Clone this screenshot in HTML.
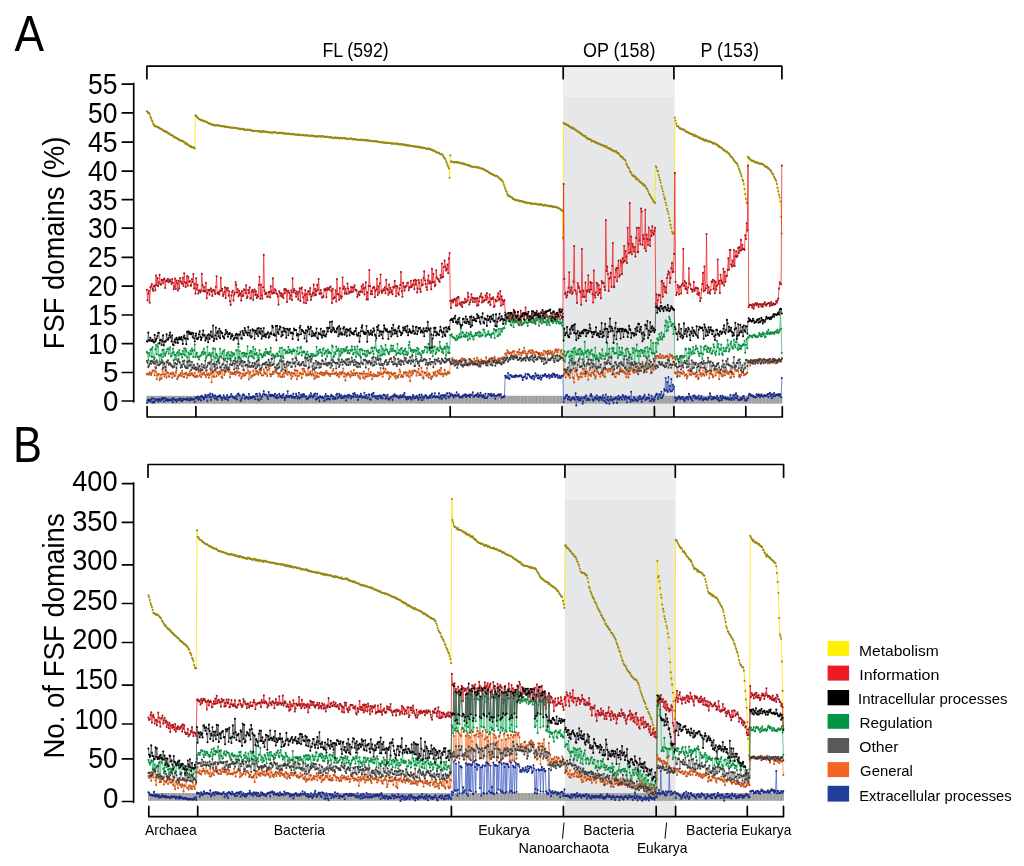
<!DOCTYPE html>
<html><head><meta charset="utf-8"><title>FSF domains</title>
<style>
html,body{margin:0;padding:0;background:#fff;}
svg{display:block;}
text{font-family:"Liberation Sans",Arial,sans-serif;fill:#000;}
.ax{stroke:#000;stroke-width:1.7;fill:none;stroke-linejoin:round;stroke-linecap:round;}
.dp path{fill:none;stroke-width:0.8;vector-effect:non-scaling-stroke;stroke-linejoin:round;}
</style></head>
<body>
<svg width="1024" height="866" viewBox="0 0 1024 866">
<defs>
<marker id="mmet" markerUnits="userSpaceOnUse" markerWidth="4" markerHeight="4" refX="0" refY="0" overflow="visible"><ellipse rx="1.45" ry="1.05" fill="#9a8813"/></marker>
<marker id="minf" markerUnits="userSpaceOnUse" markerWidth="4" markerHeight="4" refX="0" refY="0" overflow="visible"><ellipse rx="1.45" ry="1.05" fill="#a3161c"/></marker>
<marker id="mreg" markerUnits="userSpaceOnUse" markerWidth="4" markerHeight="4" refX="0" refY="0" overflow="visible"><ellipse rx="1.45" ry="1.05" fill="#0b8a42"/></marker>
<marker id="mint" markerUnits="userSpaceOnUse" markerWidth="4" markerHeight="4" refX="0" refY="0" overflow="visible"><ellipse rx="1.45" ry="1.05" fill="#000000"/></marker>
<marker id="mgen" markerUnits="userSpaceOnUse" markerWidth="4" markerHeight="4" refX="0" refY="0" overflow="visible"><ellipse rx="1.45" ry="1.05" fill="#c4501a"/></marker>
<marker id="moth" markerUnits="userSpaceOnUse" markerWidth="4" markerHeight="4" refX="0" refY="0" overflow="visible"><ellipse rx="1.45" ry="1.05" fill="#3c3c3c"/></marker>
<marker id="mext" markerUnits="userSpaceOnUse" markerWidth="4" markerHeight="4" refX="0" refY="0" overflow="visible"><ellipse rx="1.45" ry="1.05" fill="#1b2a86"/></marker>
<pattern id="hatch" patternUnits="userSpaceOnUse" width="1.4" height="2"><rect width="1.4" height="2" fill="#b2b2b2"/><rect width="0.5" height="2" fill="#8e8e8e"/><rect width="1.4" height="0.4" fill="#a2a2a2"/></pattern>
</defs>
<rect width="1024" height="866" fill="#fff"/>

<!-- ============ Panel A ============ -->
<text x="14.6" y="50.8" font-size="49.8" textLength="29.6" lengthAdjust="spacingAndGlyphs">A</text>
<rect x="563.3" y="67" width="111.2" height="349" fill="#e6e7e9"/>
<rect x="563.3" y="67" width="111.2" height="30" fill="#eeeeef"/>
<rect x="563.3" y="403.6" width="111.2" height="11.2" fill="#e9e9ea"/>
<text x="322.4" y="56.7" font-size="19.6" textLength="66.3" lengthAdjust="spacingAndGlyphs">FL (592)</text>
<text x="583" y="57" font-size="19.6" textLength="72.4" lengthAdjust="spacingAndGlyphs">OP (158)</text>
<text x="700.5" y="57" font-size="19.6" textLength="58.5" lengthAdjust="spacingAndGlyphs">P (153)</text>
<path class="ax" d="M146.9 78.7V66.2H781.9V78.7M563.2 66.2V78.7M673.9 66.2V78.7"/>
<path class="ax" d="M147.1 406.7V417H782.3V406.7M195.9 417V406.7M450.2 417V406.7M562 417V406.7M654.4 417V406.7M673.9 417V406.7M745.8 417V406.7"/>
<path class="ax" d="M133.7 83.4V401.8M122.3 401.0H133.7M122.3 372.5H133.7M122.3 343.6H133.7M122.3 315.0H133.7M122.3 286.1H133.7M122.3 257.3H133.7M122.3 228.1H133.7M122.3 199.7H133.7M122.3 171.2H133.7M122.3 142.1H133.7M122.3 112.9H133.7M122.3 84.2H133.7"/>
<g font-size="29.6" text-anchor="end">
<text x="118.3" y="411.1" textLength="15.4" lengthAdjust="spacingAndGlyphs">0</text>
<text x="118.3" y="382.3" textLength="15.4" lengthAdjust="spacingAndGlyphs">5</text>
<text x="117.4" y="353.5" textLength="29.4" lengthAdjust="spacingAndGlyphs">10</text>
<text x="117.4" y="324.7" textLength="29.4" lengthAdjust="spacingAndGlyphs">15</text>
<text x="117.4" y="295.9" textLength="29.4" lengthAdjust="spacingAndGlyphs">20</text>
<text x="117.4" y="267.1" textLength="29.4" lengthAdjust="spacingAndGlyphs">25</text>
<text x="117.4" y="238.3" textLength="29.4" lengthAdjust="spacingAndGlyphs">30</text>
<text x="117.4" y="209.5" textLength="29.4" lengthAdjust="spacingAndGlyphs">35</text>
<text x="117.4" y="180.7" textLength="29.4" lengthAdjust="spacingAndGlyphs">40</text>
<text x="117.4" y="151.9" textLength="29.4" lengthAdjust="spacingAndGlyphs">45</text>
<text x="117.4" y="123.1" textLength="29.4" lengthAdjust="spacingAndGlyphs">50</text>
<text x="117.4" y="94.3" textLength="29.4" lengthAdjust="spacingAndGlyphs">55</text>
</g>
<text transform="translate(63.7 349.2) rotate(-90)" font-size="29.5" textLength="212.6" lengthAdjust="spacingAndGlyphs">FSF domains (%)</text>
<rect x="146.4" y="395.8" width="636" height="7.9" fill="url(#hatch)"/>
<g class="dp" transform="matrix(0.7039 0 0 1 146.9 0)">
<path d="M0 111.3l1 .6 1 1.4 1-.4 1 1.4 1 2.4 1 1.7 1 1.9 1 1.3 1 2.3 1 1.2 1 1.1 1-.3 1 .3 1 .8 1 .2 1-.1 1 .9 1-.1 1 1.1 1-.2 1 .7 1 0 1 .8 1 .8 1 .3 1-.2 1 .2 1 1.1 1-.1 1 .4 1 .9 1-.2 1 1.1 1 .5 1 0 1 .1 1 .7 1 1.0 1-.1 1 .8 1 0 1 .4 1 .5 1 .4 1 .4 1 .6 1 .6 1-.1 1 .1 1 .5 1 .4 1 0 1 1.1 1 .1 1 1.4 1-.5 1 .1 1 1.1 1 .3 1 .7 1 .1 1 1.1 1-.5 1 .7 1 .2 1 .4 1-.1 1 .8 1-33.0 1 .5 1 1.0 1 1.0 1 .4 1 1.0 1-.1 1 .6 1 .1 1 .8 1-.3 1 .3 1 .4 1-.1 1 .5 1 .3 1 .4 1 .1 1 .9 1 .3 1 .1 1-.1 1 .5 1 .6 1 .2 1 0 1 0 1 .6 1 0 1-.1 1 .1 1-.2 1 0 1 .2 1 .5 1 .1 1-.2 1 .2 1 .6 1-.6 1 .3 1-.1 1 .9 1-.5 1 .6 1-.1 1-.2 1 .4 1 0 1 .2 1 0 1 .2 1 .1 1-.2 1 .4 1-.2 1-.1 1 .4 1-.1 1 .2 1 0 1 .6 1 .1 1-.3 1 .6 1-.2 1-.1 1 0 1 .5 1 0 1 .2 1 .7 1-.4 1-.1 1-.2 1 .3 1 0 1 .2 1-.4 1 .8 1-.2 1 .9 1-.5 1 .4 1-.1 1-.2 1 .3 1-.1 1 .1 1 .2 1-.5 1 .9 1-.1 1-.1 1 .4 1-.5 1-.4 1 .8 1-.2 1 .2 1 0 1 .1 1-.1 1 .3 1 .2 1 0 1 .4 1-.2 1 0 1 0 1 .1 1-.1 1-.2 1 .1 1-.1 1 .4 1 .2 1 .1 1 .3 1-.4 1-.4 1 .5 1 .2 1-.4 1 .2 1 .1 1 .9 1-.2 1-.4 1 .1 1 .2 1 .1 1 .1 1-.3 1 .1 1 .6 1-.3 1 .4 1-.3 1 .2 1 0 1 0 1 .4 1 0 1-.2 1 .1 1 .4 1-.6 1 .6 1 .1 1 .2 1 0 1-.5 1 .5 1-.3 1 .4 1-.1 1 .2 1-.3 1 .2 1 .2 1 .1 1 .1 1 .3 1-.6 1 .3 1-.4 1 .6 1 .3 1-.3 1 .4 1 .2 1-.3 1 .2 1 0 1-.3 1-.1 1 .3 1-.1 1 .4 1-.6 1 .1 1 .1 1 .6 1-.1 1 .1 1 0 1 0 1 0 1 .3 1 0 1 .2 1-.1 1 .1 1 .1 1 .5 1 .1 1-.2 1-.7 1 .7 1 .2 1-.2 1-.4 1 .3 1 .8 1-.6 1-.3 1 .4 1 .3 1-.1 1-.3 1-.2 1 .6 1-.4 1 .7 1 .2 1-.2 1 0 1 0 1 0 1-.1 1 0 1 .1 1 .7 1 .1 1-.4 1 .2 1-.1 1 .2 1 .4 1 0 1 0 1 0 1 .2 1-.4 1 .5 1-.6 1 .6 1 .1 1 .1 1-.5 1 .8 1-.5 1-.2 1 .7 1 0 1-.3 1 .6 1 0 1 .1 1-.3 1 .6 1-.1 1 0 1-.1 1 .2 1 .1 1-.3 1 .4 1 .6 1-.3 1 .1 1 0 1 .4 1 .1 1-.1 1-.1 1 .4 1 .1 1-.2 1 .2 1 .1 1 .2 1-.1 1-.1 1 .2 1 0 1 .1 1 .5 1-.1 1-.1 1 .2 1 .1 1 0 1-.1 1 .1 1-.4 1 .6 1 .6 1-.6 1 .6 1-.5 1 .2 1 .5 1-.5 1 .2 1 .5 1-.3 1 .4 1 .5 1-.8 1 .7 1 .3 1-.3 1 .1 1 .3 1 .1 1 .4 1-.6 1 .4 1 .4 1 0 1-.1 1 .4 1 .1 1-.3 1-.1 1 .6 1 .1 1 .2 1 .2 1-.2 1 .2 1 .5 1-.3 1 0 1 .2 1 .5 1 .5 1-.1 1-.5 1 .5 1-.1 1 .5 1 .1 1 .2 1 .2 1 .8 1-.3 1 .5 1 .2 1 .8 1 .4 1 .1 1 .5 1 0 1 0 1 .7 1 .8 1-.3 1 .6 1 0 1 1.6 1 1.2 1 .9 1 .8 1 2.2 1 1.5 1 2.1 1 1.6 1 1.7 1 9.6 1-22.5 1 6.1 1 .4 1 0 1 .5 1-.2 1 .5 1-.7 1 .3 1 .2 1-.3 1 .5 1-.1 1 .2 1 .1 1 .3 1 .4 1-.1 1 .5 1-.4 1 .5 1 .1 1 .6 1 .1 1 0 1 .5 1 .1 1-.1 1 .9 1-.1 1 .4 1 .2 1 .4 1-.3 1-.1 1 .1 1 .2 1 .4 1 0 1 0 1-.1 1 .4 1 .5 1 0 1 .1 1 .4 1 .3 1-.2 1 1.0 1 0 1 .8 1 0 1 .6 1 .1 1 .7 1 .6 1 .3 1 .6 1 .1 1 .5 1 .4 1 .3 1 .4 1 0 1 .9 1 .2 1-.5 1 .4 1 1.0 1 .5 1 .3 1 1.4 1-.2 1 .9 1 .7 1 1.4 1 2.0 1 2.4 1 2.0 1 2.0 1 1.1 1 2.2 1 1.8 1-.2 1 .4 1 .8 1 .3 1 .3 1 .3 1 1.3 1-.2 1 .7 1 .5 1 .3 1 0 1-.1 1 .5 1 .2 1-.3 1 .7 1-.5 1 .7 1-.1 1 .2 1 .6 1-.3 1 .6 1 .3 1-.4 1 .4 1 .4 1-.3 1 .2 1 .3 1 .1 1 .3 1-.4 1 .7 1-.2 1-.1 1-.2 1 .6 1-.1 1 0 1 .5 1 .1 1 .1 1-.4 1 .1 1 0 1 .5 1 .4 1 .1 1 .1 1-.6 1 .5 1-.1 1 .3 1 .2 1 .2 1-.5 1 .9 1-.4 1 .4 1-.5 1 .7 1 .1 1 .6 1-.8 1 .5 1-.1 1 .2 1 .8 1-.1 1 .3 1 .5 1 .5 1 .6 1 .2 1 1.0 1 27.1 1-115.1 1 1.2 1-.2 1 0 1 .9 1 .5 1-.4 1 1.1 1 .6 1-.1 1 .9 1 .5 1-.6 1 1.2 1-.1 1 .2 1 1.0 1 .1 1 .8 1 .2 1 .3 1 1.0 1 .3 1 .6 1 .2 1 .9 1 .4 1 .9 1-.1 1 .9 1 0 1 0 1 1.5 1 .2 1 .6 1 .9 1-.6 1 .5 1 .3 1 .5 1 1.5 1-.7 1 .5 1-.1 1 .6 1 .2 1 1.0 1-.4 1 .9 1-.3 1 .5 1 .1 1 .8 1 0 1 .7 1 0 1 .1 1 .1 1 1.0 1-.5 1 1.1 1-.8 1 1.5 1 .2 1 .3 1 .6 1-.5 1 .7 1 .8 1 .6 1-.1 1 .4 1 .2 1 .7 1-.3 1-.3 1 1.8 1 .1 1 0 1 1.3 1 1.2 1 .9 1-.2 1 1.4 1-.3 1 1.4 1 .8 1 0 1 1.2 1 2.9 1 1.1 1 2.0 1 .5 1 1.4 1 2.6 1 .7 1 .9 1 1.8 1 .9 1 .5 1-.5 1 1.7 1-.4 1 2.4 1-.9 1 .9 1 .9 1 .4 1 1.3 1-.1 1 1.0 1 .6 1 .6 1 0 1 1.8 1-.5 1 .6 1 1.5 1 1.6 1 .1 1 2.3 1 1.9 1 1.0 1 1.3 1 1.6 1 1.1 1 .6 1 1.4 1 1.9 1-.1 1 1.0 1-36.7 1 1.3 1 3.1 1 .4 1 3.7 1 2.7 1 2.7 1 2.4 1 3.7 1 2.2 1 2.7 1 3.0 1 3.2 1 2.0 1 3.3 1 2.6 1 3.6 1 2.3 1 2.5 1 4.1 1 2.9 1 4.2 1 3.1 1 3.7 1 1.8 1-.5 1 .5 1-115.9 1 3.1 1 3.1 1 2.5 1-.2 1 .4 1 1.0 1 .9 1 .2 1-.1 1 .7 1 .2 1-.1 1 .7 1 0 1 1.1 1 1.0 1-.4 1 0 1 1.0 1 .6 1-.4 1 .9 1 .2 1 .1 1 .3 1 1.0 1 .6 1-1.5 1 1.3 1 .7 1-.5 1 .6 1 .7 1 .4 1 .2 1-.3 1 .8 1 .6 1 .4 1-.5 1 1.3 1-.4 1 1.1 1-.9 1 .1 1 .8 1 .6 1-.3 1 .5 1-.4 1 .4 1 .5 1 .4 1 .8 1-.1 1 .1 1 .3 1-.2 1 1.2 1-.1 1 .5 1 1.7 1-.7 1 1.0 1 .4 1 .2 1 .6 1 .8 1 1.0 1 .3 1-.1 1 1.2 1 0 1 .3 1 .6 1 1.2 1-.1 1 1.2 1 1.2 1 1.1 1 0 1 1.3 1 .8 1 1.3 1 .8 1 .9 1 .6 1 .7 1 1.1 1 1.8 1 2.2 1 1.9 1 1.8 1 2.2 1 1.8 1 3.3 1 1.4 1 3.2 1 4.9 1 5.1 1 4.7 1 3.9 1 .5 1-46.3 1 1.0 1 .5 1 .8 1 1.1 1 .1 1 .5 1 0 1 .5 1 .1 1 .7 1 .4 1-.2 1-.1 1 1.0 1-.1 1 .4 1 .2 1 .2 1-.6 1 .9 1 0 1 .5 1 .5 1 1.2 1-.1 1 .7 1-.3 1 1.5 1-.3 1 1.2 1 .4 1 1.0 1 .7 1 1.6 1 1.3 1 .4 1 2.2 1 1.5 1 1.3 1 1.5 1 2.8 1 4.0 1 3.5 1 3.5 1 2.6 1 4.0 1 15.2 1 16.8" stroke="#ffe500" marker-start="url(#mmet)" marker-mid="url(#mmet)" marker-end="url(#mmet)"/>
<path d="M0 289.8l1 10.6 1-7.1 1-2.6 1 12.0 1-15.5 1-.9 1-2.2 1 4.8 1 2.0 1-4.5 1-1.2 1 5.0 1-14.7 1 9.7 1-7.1 1 8.1 1-3.7 1-7.6 1 9.4 1 .5 1-5.0 1 .6 1 2.8 1-3.9 1-.7 1 9.4 1-6.8 1-.9 1 .9 1-2.5 1 3.5 1-1.4 1-1.1 1 1.8 1 2.5 1-5.0 1 3.8 1 6.5 1-2.7 1-8.0 1 10.3 1-8.3 1 2.7 1 7.2 1-9.7 1 7.7 1-10.5 1 3.5 1 .7 1 1.7 1-6.1 1 8.2 1-12.8 1 9.0 1 5.0 1-4.1 1-7.1 1 9.7 1-8.7 1 4.8 1-.7 1 4.7 1-.4 1-6.4 1 3.0 1-8.0 1 14.5 1-4.7 1 9.8 1-15.4 1 11.3 1-4.8 1 8.9 1-2.6 1-.7 1 2.1 1-1.9 1-16.8 1 11.4 1 6.1 1-4.2 1 4.1 1 .4 1-8.7 1 15.4 1-5.1 1-3.3 1 .6 1 4.4 1-5.1 1-1.4 1 3.1 1 4.5 1-5.8 1-.3 1 1.7 1 2.6 1-7.1 1-10.8 1 16.8 1 .8 1-1.7 1 2.3 1-3.5 1-13.1 1 12.8 1-1.7 1 7.2 1-1.7 1-2.4 1-4.7 1 10.8 1-9.8 1 2.2 1-2.5 1 7.8 1-4.6 1 10.1 1 3.6 1-9.3 1-3.4 1-1.5 1 9.7 1-5.8 1-1.8 1-10.5 1 2.6 1 7.7 1-3.6 1 7.2 1-5.5 1 4.2 1-1.5 1 7.2 1-9.5 1 5.0 1-.5 1-6.3 1 .8 1 3.1 1-8.0 1 12.9 1-1.3 1-7.0 1 3.1 1-5.5 1 11.2 1-.6 1-6.4 1-1.7 1 10.1 1-8.2 1-2.3 1 5.4 1-3.7 1 6.9 1-3.2 1 1.9 1-11.8 1-8.2 1 22.0 1-14.3 1 11.0 1 3.3 1-11.5 1-32.5 1 35.7 1 3.8 1-1.8 1 1.0 1 3.5 1-.5 1-4.4 1-.2 1 5.5 1-11.0 1 5.2 1 2.0 1-15.2 1 14.2 1 .6 1-3.9 1 1.2 1 2.7 1 1.1 1 2.0 1 8.3 1-13.4 1 1.8 1 2.8 1-2.6 1 3.6 1-2.4 1 3.6 1-8.6 1 3.8 1-4.3 1 1.5 1 11.6 1-10.8 1-.5 1 2.0 1 6.0 1-2.9 1-5.3 1 9.4 1-21.5 1 13.9 1-3.2 1 1.4 1 2.7 1 3.6 1-5.2 1 2.4 1 5.4 1-7.4 1-3.7 1 12.6 1-12.2 1-1.2 1 5.8 1 3.9 1 5.5 1-7.6 1-5.0 1 13.2 1-9.6 1 6.6 1-8.9 1-.3 1 3.3 1-6.3 1 11.9 1-3.4 1-2.2 1-1.5 1-8.3 1 10.8 1-6.4 1 5.9 1-3.9 1-6.1 1 5.1 1-10.9 1 14.4 1 .6 1-4.1 1 3.2 1 4.2 1 .1 1-1.5 1-6.8 1 1.2 1-1.8 1 8.7 1-7.4 1-2.2 1 1.4 1 .6 1-2.5 1-.6 1 4.3 1 12.2 1-14.2 1 9.9 1-.8 1-.7 1-7.1 1 11.3 1-22.4 1 15.1 1 .1 1 5.7 1-11.9 1 7.9 1 2.4 1-1.8 1-19.1 1 11.5 1-2.5 1 7.2 1-5.1 1 4.3 1 1.1 1-10.5 1 5.1 1 4.9 1-1.9 1 .6 1-5.2 1 5.1 1-4.9 1 4.6 1-4.2 1-2.2 1 4.3 1 .9 1-.3 1 6.6 1-2.5 1-2.4 1 3.3 1-4.1 1 .6 1-5.6 1 6.0 1-8.0 1 4.4 1 5.9 1-6.7 1-5.4 1 17.1 1-7.1 1 7.0 1-13.4 1-15.9 1 16.0 1 8.2 1-3.6 1 3.6 1-6.3 1-.9 1 .3 1 9.8 1-6.6 1-1.4 1-10.4 1 16.2 1-8.8 1 6.5 1-9.1 1-9.1 1 16.3 1 2.1 1-1.6 1-2.0 1 1.2 1-3.1 1 5.8 1-13.3 1 8.9 1 1.2 1 4.8 1-10.2 1 8.1 1-4.9 1 4.7 1-2.2 1 3.9 1-7.3 1 .8 1-6.8 1 5.1 1 10.2 1-10.1 1 .7 1 6.6 1 1.3 1-6.1 1-3.5 1-13.1 1 19.3 1 5.5 1-13.9 1 3.6 1 4.3 1-3.4 1-1.0 1-.7 1-2.6 1-.6 1 7.8 1-2.5 1-.7 1-6.4 1 6.6 1-1.8 1-.9 1-4.1 1 8.6 1-9.4 1 4.9 1-4.1 1 11.9 1-3.9 1-8.5 1 2.7 1 6.5 1 2.7 1-11.9 1 5.4 1-.9 1-6.4 1-6.7 1 8.9 1 3.6 1 3.4 1 2.7 1-9.6 1-4.9 1 7.9 1-2.2 1 1.8 1 6.3 1-20.4 1 13.5 1-8.5 1 7.9 1 4.4 1-1.5 1-14.5 1 7.4 1 1.1 1 .7 1 1.6 1 1.0 1-6.9 1 2.8 1-14.3 1 13.5 1-.4 1-9.7 1-6.4 1 6.0 1 3.9 1-1.6 1-4.4 1 8.8 1-14.7 1-5.6 1 47.8 1 7.1 1-6.7 1-1.3 1 2.5 1-2.0 1-1.6 1 .9 1 5.9 1-7.6 1 7.5 1-8.8 1 .9 1 6.3 1-.4 1 1.8 1-3.2 1 4.8 1-4.5 1-.1 1 .7 1-4.1 1 3.4 1-.5 1-1.5 1-7.5 1 4.2 1 7.5 1-2.2 1-2.4 1-5.7 1 3.6 1 4.2 1-3.6 1 0 1 3.7 1-3.8 1 .4 1 7.0 1-7.7 1 7.0 1-3.8 1-4.6 1-.2 1-2.8 1 8.9 1-5.1 1 4.4 1-1.1 1-.5 1-4.9 1 4.5 1-6.7 1 4.4 1 5.2 1-.8 1-7.4 1 10.4 1-6.6 1 .9 1-.5 1-1.3 1 9.6 1-1.0 1-6.4 1 1.7 1-.1 1-4.5 1-3.4 1 6.8 1-1.3 1-7.7 1 14.6 1-9.4 1 3.6 1 4.6 1-3.1 1-1.4 1 12.5 1 8.4 1-2.0 1-2.0 1 .4 1-1.4 1 .1 1-1.3 1 5.2 1-6.2 1 3.6 1-2.8 1-4.8 1 3.2 1 2.0 1 7.3 1-4.2 1-2.6 1 5.9 1-5.8 1 3.3 1 4.2 1-12.2 1 14.5 1-11.7 1 2.9 1-1.9 1 5.1 1-7.0 1-5.2 1 7.3 1 3.7 1-4.8 1 8.7 1-4.8 1 2.3 1 1.5 1-3.2 1-4.8 1-1.6 1 6.4 1 1.3 1 1.1 1 3.3 1-11.2 1-2.0 1 6.2 1-1.0 1 1.5 1-3.9 1 8.3 1-3.9 1-.1 1-2.2 1 6.4 1-10.4 1 6.9 1-.4 1-6.7 1 3.6 1 1.6 1 2.7 1 2.4 1-5.4 1-.3 1 3.2 1-2.4 1-4.1 1 4.9 1-.4 1-3.8 1 5.0 1-4.4 1-1.1 1 6.4 1-2.9 1 1.2 1-8.3 1-.2 1 6.1 1 3.1 1-1.6 1-2.9 1-129.8 1 94.9 1 15.3 1-1.5 1 4.7 1-1.9 1-3.6 1-4.2 1-15.4 1 20.5 1-2.4 1-3.0 1 6.6 1-1.6 1-10.8 1-35.6 1 44.3 1 .4 1 2.8 1 9.5 1-20.0 1 3.0 1 1.9 1 4.1 1-.6 1 13.3 1-55.7 1 47.7 1-6.1 1 6.4 1-.2 1-14.2 1 18.4 1-10.5 1 1.2 1-16.4 1 14.7 1 2.1 1-10.1 1 7.6 1-6.6 1 11.0 1 8.5 1-32.0 1 24.8 1 2.4 1-5.2 1-9.7 1 1.0 1 11.1 1-9.7 1 7.7 1-3.5 1 8.8 1-17.2 1 1.6 1 .5 1-.3 1 4.1 1 3.3 1-70.2 1 51.1 1-4.5 1 7.4 1 16.9 1-12.1 1-.9 1-5.0 1 14.2 1-21.3 1-22.8 1 43.6 1 .5 1-9.8 1-7.3 1-2.0 1 13.2 1-13.1 1-7.4 1 16.0 1-1.7 1-14.6 1 2.0 1 11.7 1-15.7 1 4.0 1-16.4 1 14.9 1-9.8 1 5.5 1 6.5 1-35.4 1 16.2 1 9.4 1-50.3 1 49.2 1-15.7 1 17.8 1-10.6 1 2.8 1 5.0 1-4.3 1 9.4 1-18.7 1-10.0 1 24.3 1-.1 1-24.3 1 12.5 1 4.0 1-35.7 1 3.0 1 33.3 1-9.9 1 3.9 1 9.3 1-38.5 1 41.3 1-16.4 1 4.5 1 5.9 1-17.4 1 12.3 1 6.1 1-15.4 1 5.3 1-9.7 1 6.8 1 1.6 1-3.7 1-3.2 1 76.3 1-9.6 1 11.5 1-5.6 1-5.2 1 .1 1 0 1 7.5 1-21.2 1-.7 1 15.9 1-13.4 1 2.9 1 5.8 1-4.8 1 5.8 1-15.1 1-3.3 1-3.4 1 1.5 1 10.0 1-4.7 1-9.8 1-5.3 1 9.1 1-.1 1-18.0 1-81.0 1 108.9 1 13.3 1-2.4 1-7.6 1 2.2 1 7.1 1-7.8 1-.1 1 7.0 1-8.5 1-1.4 1-34.9 1 37.3 1-5.0 1 7.9 1-6.1 1 6.6 1 3.5 1-5.4 1-19.3 1 15.4 1 1.4 1 4.0 1 .4 1 2.4 1-2.1 1-7.8 1 9.0 1-2.1 1-1.3 1 .6 1 6.0 1-5.9 1 6.8 1-2.3 1 8.4 1-2.9 1-8.6 1-5.5 1-11.3 1 18.4 1-24.7 1 23.8 1-2.0 1-54.3 1 51.4 1 7.6 1-5.9 1 4.9 1 1.7 1-3.9 1-8.3 1 .5 1-2.3 1 9.2 1-8.4 1 12.8 1-11.6 1 8.1 1-4.1 1-26.2 1 24.4 1-3.2 1 12.4 1-18.4 1 5.9 1 3.1 1-1.2 1-13.7 1 16.7 1-13.7 1 10.0 1-5.4 1-.8 1-5.8 1-11.6 1 11.5 1-19.7 1-.1 1 14.7 1 2.1 1-6.1 1 5.2 1-15.8 1 16.0 1-9.8 1-5.0 1 5.9 1-1.2 1-8.2 1 5.2 1-5.8 1 3.7 1-10.9 1 10.2 1-5.4 1 4.2 1 0 1 1.0 1-14.7 1 3.8 1-15.7 1 7.3 1-65.0 1 141.7 1-2.1 1-.5 1 .2 1 .6 1 2.1 1-3.4 1 4.5 1-3.0 1-1.8 1-.6 1 1.7 1-1.7 1 1.5 1 2.1 1-2.6 1 0 1 .1 1 2.1 1-2.1 1 2.3 1-2.9 1 .6 1-2.2 1 2.6 1 .9 1-1.6 1-.6 1-.3 1-.2 1 3.0 1-2.1 1-1.9 1 3.3 1-1.1 1-.9 1 1.5 1-.6 1-.1 1-3.0 1 1.5 1-2.3 1-1.8 1-10.0 1-6.2 1 1.7 1 .3 1-118.7" stroke="#ee2a2f" marker-start="url(#minf)" marker-mid="url(#minf)" marker-end="url(#minf)"/>
<path d="M0 351.9l1 1.4 1 7.0 1-7.2 1 2.6 1-6.0 1-.6 1 7.8 1-9.5 1 9.4 1 2.9 1-1.6 1-8.9 1-4.2 1 9.2 1-7.5 1-3.2 1 11.6 1 6.4 1-5.9 1-1.4 1 5.8 1-9.9 1 6.6 1-7.2 1 4.3 1 1.9 1-2.4 1-1.8 1-2.5 1-.5 1 5.2 1-4.2 1-2.2 1 9.1 1-.8 1-2.4 1-4.6 1 3.8 1 2.3 1 4.5 1-4.3 1 4.9 1-6.7 1-1.1 1 3.7 1-5.6 1 3.5 1 .8 1-.4 1 3.4 1-6.4 1 3.1 1-5.8 1 7.1 1-6.6 1 2.1 1 6.1 1 8.7 1-13.1 1 8.3 1-6.8 1-3.5 1 3.7 1-5.8 1 2.2 1 6.2 1-6.7 1-5.6 1 12.5 1-2.5 1-1.8 1 4.3 1-.5 1 2.9 1-2.7 1-1.3 1 0 1-2.4 1-1.5 1 2.9 1-5.8 1 4.8 1-1.0 1 6.1 1-2.1 1-9.8 1 8.4 1 .2 1-2.3 1 1.5 1 3.0 1-2.1 1-2.3 1-4.7 1 8.4 1 8.5 1-16.5 1 9.5 1-4.4 1 1.9 1 5.8 1-2.7 1-1.9 1-8.3 1 7.7 1 1.4 1-4.4 1-2.0 1 7.6 1-8.9 1 10.4 1-2.0 1-3.1 1-2.4 1 6.0 1-7.0 1 6.5 1-3.6 1 4.0 1-6.9 1 4.4 1-3.4 1 1.7 1-1.2 1 6.6 1-1.9 1-7.8 1-.1 1 10.9 1-14.4 1 11.8 1-7.3 1 7.6 1 2.0 1-7.4 1-.4 1 3.3 1-3.7 1 2.6 1-1.8 1 3.2 1-2.8 1-7.7 1 12.6 1-2.2 1-3.5 1-2.4 1 5.6 1-4.8 1 5.5 1-9.9 1 11.3 1-4.3 1-4.9 1 5.2 1-1.4 1 7.8 1-5.6 1 2.6 1-7.7 1 4.2 1-.3 1 1.3 1 2.1 1-1.5 1-1.8 1-1.8 1 3.1 1-6.4 1 4.1 1-1.2 1 2.1 1-1.8 1 2.1 1-2.6 1-3.9 1 7.5 1 3.7 1-4.6 1 1.2 1 .3 1 .2 1 .7 1-2.5 1-.7 1 2.5 1-.2 1-4.2 1-3.6 1 11.7 1 .2 1-12.2 1 9.0 1 1.4 1-8.2 1-.3 1 3.6 1-1.4 1-.5 1 1.8 1-6.4 1 6.0 1-3.2 1 2.4 1-.9 1 2.5 1-2.3 1-2.1 1 2.1 1-1.1 1 7.9 1 .2 1-6.8 1-4.0 1 6.8 1-.6 1-.9 1-4.8 1-1.2 1 8.7 1-3.4 1 .4 1-1.1 1 .6 1 6.5 1-4.4 1 .4 1-2.7 1 2.9 1 1.8 1-.2 1 3.6 1-6.1 1 1.4 1 1.8 1-3.0 1 1.6 1 0 1-.1 1 .6 1-9.3 1 8.2 1-3.5 1 1.9 1-3.5 1-.4 1 2.7 1 .5 1 3.2 1-6.3 1-1.4 1 5.9 1-1.1 1-2.2 1 .5 1 5.2 1-7.0 1 3.6 1-1.6 1 1.4 1 .2 1 7.2 1-14.7 1 1.2 1 10.1 1-.6 1-4.1 1 1.9 1-7.6 1 4.6 1-.8 1-1.8 1 11.9 1-9.7 1 4.7 1-6.4 1 4.2 1-1.1 1-3.1 1 1.3 1 1.1 1-2.8 1 2.0 1-3.7 1 6.4 1-2.8 1 2.3 1 .6 1-3.4 1 .7 1-4.3 1 3.3 1 4.7 1-1.3 1-6.3 1 2.6 1 7.5 1-4.7 1-5.8 1 7.7 1 .9 1-5.4 1 6.7 1-7.0 1 0 1 .9 1 4.1 1 0 1-3.5 1 3.8 1 1.9 1-5.5 1 4.6 1-5.1 1 1.8 1 1.3 1-.6 1-.4 1-4.9 1 .2 1 3.4 1 2.8 1-6.4 1-.2 1-6.9 1 9.1 1 1.4 1 5.2 1-4.0 1-2.2 1 8.6 1-3.2 1-9.4 1 9.0 1-6.6 1 5.8 1-3.8 1 4.0 1-9.4 1 4.8 1-.3 1 2.1 1 1.4 1 1.2 1-2.5 1-2.6 1-3.7 1 5.8 1-2.2 1-3.3 1 5.0 1 .5 1-.4 1 4.1 1-1.4 1-9.5 1 8.7 1 .5 1-3.3 1 4.1 1-5.2 1-.9 1 5.4 1-2.4 1 3.7 1-4.2 1-1.7 1 5.7 1-2.8 1 3.5 1-2.0 1-8.1 1-3.2 1 6.4 1 2.6 1-1.1 1 6.4 1-6.1 1 2.0 1-1.8 1 .1 1 6.3 1-6.0 1-2.9 1 6.4 1-5.1 1 3.7 1 1.0 1 1.2 1 .5 1-4.4 1 1.4 1 .1 1-2.1 1-3.5 1-.2 1 .6 1 5.1 1-4.5 1-4.1 1 6.6 1-.9 1 3.3 1-1.2 1-11.5 1 16.1 1-5.6 1-4.2 1 .3 1 7.3 1-1.6 1-3.3 1-1.1 1 2.3 1 .4 1-9.1 1 5.2 1 1.7 1 3.5 1-2.9 1 4.0 1-4.7 1-1.9 1 1.3 1 7.7 1-12.1 1 2.9 1 6.5 1-5.3 1 5.5 1-17.7 1-.2 1-.8 1 2.4 1 .7 1 0 1 .5 1 1.0 1 1.3 1-4.5 1 3.7 1-1.4 1-1.5 1-2.5 1 3.6 1-9.1 1 8.3 1-4.5 1 .2 1 3.6 1 .4 1-2.0 1 2.1 1-4.2 1 3.6 1 4.0 1-6.9 1 1.6 1 4.0 1-6.8 1 2.4 1 1.8 1 .5 1 2.7 1-3.6 1-.3 1-2.4 1 2.0 1-2.1 1-.2 1 2.9 1-4.0 1 5.0 1-3.9 1 2.7 1 .3 1-.7 1-5.5 1 .2 1 2.7 1 3.9 1-1.3 1-.4 1-.6 1-2.9 1 2.7 1 1.3 1-.3 1 2.5 1-3.1 1-1.0 1 .2 1-4.5 1 9.1 1-8.0 1 1.1 1-1.2 1 6.3 1-.3 1-7.2 1 5.7 1 0 1-5.5 1 2.7 1-2.3 1-1.1 1-.2 1 .2 1-5.3 1 1.0 1-2.6 1-4.3 1 1.5 1 1.5 1-2.2 1 3.4 1 3.6 1 .6 1-4.1 1 .9 1 5.0 1-5.3 1-3.6 1 2.4 1-.1 1 0 1 2.3 1 1.9 1 .4 1-7.8 1 2.9 1 1.1 1 3.0 1-.9 1 .1 1-1.3 1-1.4 1-1.0 1 2.5 1 .4 1 3.2 1-8.6 1 2.4 1 1.1 1 .8 1 .4 1-4.0 1 4.6 1-3.1 1 2.9 1-1.0 1 1.6 1-5.1 1 2.5 1-1.9 1-1.8 1 8.8 1-6.8 1 1.0 1-1.1 1 4.8 1-4.8 1 1.2 1 2.2 1-.3 1 .6 1-6.2 1 8.6 1-4.0 1 2.1 1-6.0 1 8.3 1-6.9 1 1.2 1 2.0 1-1.2 1 2.5 1-1.4 1-3.1 1 1.0 1 2.0 1 1.8 1-3.4 1 1.7 1 .6 1 1.7 1-4.5 1 4.2 1-1.2 1 3.4 1-6.0 1 35.5 1-3.8 1 10.4 1-5.9 1-1.3 1-2.2 1-.5 1-.7 1 5.6 1 3.2 1-4.1 1-4.6 1 13.5 1-12.7 1-3.4 1 13.7 1-14.7 1 4.3 1 2.6 1-.6 1-3.8 1 4.1 1-5.2 1 9.5 1-9.9 1 5.9 1-3.6 1 1.9 1 1.6 1 7.0 1-19.7 1 11.1 1-1.7 1 5.9 1-6.4 1-.6 1 9.5 1-7.3 1 1.4 1-3.0 1-1.0 1 4.9 1 5.8 1-5.5 1 1.8 1-9.0 1 10.8 1-2.9 1 2.2 1 1.8 1 .3 1-6.5 1 4.3 1-2.9 1 4.0 1-9.4 1 6.6 1-.3 1 3.5 1-.5 1-5.1 1 1.9 1-12.3 1 11.2 1-.5 1-5.0 1 8.8 1-1.2 1 .2 1-8.6 1 3.3 1-3.0 1 5.3 1-.6 1 .2 1 0 1-9.5 1 14.3 1-2.7 1-7.8 1 7.4 1-3.1 1 2.7 1-6.7 1 5.1 1 10.6 1-7.8 1 .8 1-6.9 1 6.3 1-7.5 1 .4 1 2.9 1 8.6 1-6.6 1 1.0 1 3.1 1 1.3 1-10.9 1 4.5 1-4.3 1 13.2 1-11.0 1-.5 1-5.6 1 11.5 1-5.1 1 11.8 1-11.8 1 5.2 1-6.5 1 .9 1 2.3 1-2.4 1 5.4 1-4.5 1-3.6 1 9.1 1 5.1 1-14.7 1 4.5 1 4.6 1-7.8 1 .7 1-9.1 1 12.3 1 1.2 1-10.6 1 9.9 1 .8 1 3.0 1-13.8 1 8.9 1-13.4 1 5.3 1-3.9 1-5.8 1 3.2 1 1.9 1-6.6 1 6.9 1-2.4 1-2.5 1 2.0 1-10.8 1-5.3 1 10.8 1-9.3 1 8.6 1-3.7 1-10.1 1 2.3 1 2.7 1 4.1 1-1.2 1-1.0 1 10.3 1-10.3 1 34.5 1 1.4 1-2.7 1-.8 1 2.8 1 2.2 1-2.2 1-2.3 1 .9 1-1.6 1 6.8 1-6.9 1 1.6 1-.1 1-1.5 1-7.3 1 .9 1 11.9 1-.5 1-7.5 1-4.8 1 7.5 1-6.6 1 3.5 1 1.4 1-2.8 1-4.5 1 6.2 1 .3 1-4.0 1-3.7 1 2.9 1-.4 1 3.4 1 2.4 1 2.1 1-2.9 1-6.7 1 6.6 1 5.6 1-4.7 1-6.6 1 2.1 1-3.6 1-.2 1 3.8 1 2.3 1-4.6 1 1.1 1 3.9 1-2.2 1-2.0 1 5.5 1 0 1-2.6 1-6.6 1 2.6 1 6.1 1 2.0 1-3.8 1-10.5 1 6.6 1-3.4 1 10.4 1-5.3 1 .6 1-5.2 1 9.1 1 1.3 1-7.2 1 3.5 1 0 1-2.7 1 2.8 1-3.7 1-7.5 1 5.2 1 6.1 1-2.0 1-5.5 1-2.4 1 5.0 1 1.7 1 .4 1-8.8 1 5.3 1 2.1 1-5.1 1-5.9 1 12.5 1 1.3 1-5.5 1 4.1 1-2.8 1 3.3 1-2.7 1-1.4 1-.6 1 .5 1-4.2 1 12.1 1-8.1 1-5.6 1 9.2 1-11.1 1 .4 1-2.3 1 .5 1 .5 1-.3 1 1.4 1-1.7 1-.7 1-.2 1 2.0 1-.9 1 1.3 1-.3 1-.1 1-1.3 1-2.4 1 1.7 1 1.6 1-2.4 1 2.3 1-3.8 1 2.1 1-1.1 1 3.7 1-.6 1-2.9 1-1.8 1 2.1 1-4.2 1 3.2 1 1.1 1-1.9 1 1.5 1-.4 1-.9 1 .4 1 1.1 1-1.4 1-.4 1-1.1 1 1.6 1-2.8 1 3.1 1-.9 1-1.6 1-18.4 1 16.8 1 24.2" stroke="#3dbb6e" marker-start="url(#mreg)" marker-mid="url(#mreg)" marker-end="url(#mreg)"/>
<path d="M0 341.3l1 .2 1-8.9 1 7.4 1 .7 1-3.0 1 2.8 1 .5 1-1.2 1 1.7 1 1.0 1-7.6 1 6.5 1-2.0 1-1.2 1-2.2 1-3.2 1 0 1 10.6 1-3.1 1-.6 1 5.3 1-3.8 1-5.8 1 10.0 1-3.6 1-.4 1-.2 1-6.8 1 5.1 1 .2 1-1.7 1-2.6 1-2.9 1 4.8 1 4.3 1-6.4 1 9.3 1 .8 1-3.7 1-2.2 1 3.4 1-4.9 1 1.7 1 3.3 1-4.0 1-1.7 1 2.3 1-1.2 1-1.3 1 2.8 1 4.1 1-6.6 1-1.7 1 3.0 1-.2 1 5.9 1-12.4 1 7.1 1-7.8 1 2.5 1-1.4 1 1.8 1 .2 1-1.6 1 4.5 1-4.0 1 5.1 1 3.2 1-5.7 1-2.2 1 5.0 1 .7 1-1.6 1-3.3 1-3.0 1 5.6 1 2.9 1-2.2 1-3.1 1-4.0 1 5.1 1-.7 1 5.5 1-3.1 1 1.4 1-3.6 1 7.0 1-8.0 1 4.7 1-3.4 1-3.9 1 5.5 1-.6 1-11.0 1 15.4 1-2.3 1-3.1 1-7.9 1 11.5 1-6.2 1-1.5 1 5.0 1-7.7 1 9.4 1-6.7 1 1.7 1 0 1 3.2 1 .9 1 1.3 1-4.0 1-4.4 1 3.1 1-1.3 1 4.9 1-2.8 1-.1 1-.8 1 5.4 1-2.3 1-1.8 1 1.4 1 4.2 1-1.3 1-.8 1-2.7 1-1.4 1 4.6 1-3.9 1 9.6 1-9.6 1 .1 1-2.9 1 6.6 1 .4 1-7.9 1 2.4 1 2.1 1-7.3 1 2.5 1 2.3 1-.2 1 2.5 1-8.2 1 5.8 1 3.0 1-5.4 1 7.2 1-1.0 1-7.2 1 1.3 1-.2 1 8.4 1-6.4 1-1.8 1 3.3 1-5.4 1 7.6 1-8.0 1 3.9 1 1.6 1-5.0 1 10.0 1-7.3 1 5.0 1-8.3 1 7.9 1-1.6 1 2.9 1-2.8 1-.8 1-1.4 1 5.5 1-1.2 1-2.8 1-.8 1 1.3 1-8.4 1 1.6 1 7.6 1-.7 1 1.4 1-9.6 1 14.2 1-14.6 1 6.4 1 1.8 1-4.5 1-2.9 1 .7 1 9.2 1-4.6 1 3.3 1-7.3 1 3.3 1-2.4 1 3.3 1 5.8 1-9.1 1 .4 1 6.1 1-4.8 1-1.6 1 4.3 1-.1 1-.4 1 6.3 1-5.1 1-5.3 1 1.8 1-.3 1 0 1 5.4 1-1.7 1 6.3 1-5.3 1-7.0 1-1.9 1 8.5 1-4.5 1 .9 1 .6 1 1.2 1 6.0 1-5.5 1-2.8 1 11.2 1-9.9 1-4.6 1 2.4 1 5.1 1-5.9 1-1.5 1 9.2 1-5.0 1 4.6 1-2.4 1 1.1 1 1.4 1-2.8 1-4.5 1 9.1 1 1.0 1-5.6 1 .9 1 .3 1-5.6 1 6.7 1 2.2 1-6.2 1 3.8 1-3.8 1 4.5 1 .6 1-2.3 1-6.5 1 3.9 1-3.1 1-.7 1-5.8 1 9.3 1 .9 1-10.7 1 9.1 1-2.8 1 1.4 1 2.8 1-.7 1 1.0 1-3.4 1-1.4 1 8.7 1-10.1 1 8.3 1-5.8 1 4.4 1 1.6 1-.2 1-6.0 1-1.3 1 7.5 1-2.3 1-2.9 1 6.6 1-6.4 1 1.2 1-.9 1 5.5 1-6.9 1 3.4 1 1.0 1 1.0 1-1.1 1 1.6 1-3.0 1-.4 1-2.8 1 6.1 1 1.4 1-.5 1-2.3 1 8.8 1-5.7 1-4.7 1-3.9 1-2.1 1 5.9 1 2.3 1-1.3 1 2.1 1-1.3 1-6.9 1 15.7 1-10.7 1 1.4 1 2.2 1-.7 1-3.5 1 2.6 1 2.0 1-3.3 1-3.4 1 2.2 1 4.1 1 1.3 1 2.5 1-11.6 1 3.1 1-4.8 1 10.8 1-4.9 1 .6 1 3.1 1-3.2 1 6.9 1-6.8 1-6.3 1 3.0 1 1.5 1 1.1 1-1.8 1 2.4 1 7.4 1-7.0 1-.8 1 .6 1 4.7 1-8.4 1 6.3 1-9.7 1 5.6 1 3.1 1-3.5 1 3.7 1-2.2 1 4.8 1-8.2 1-1.7 1 4.7 1 1.3 1 3.0 1-2.6 1 .8 1-5.9 1 3.0 1-1.7 1-2.2 1 4.0 1 1.6 1-6.4 1 9.4 1-3.1 1-2.8 1 2.0 1 1.1 1 .6 1-1.5 1-5.4 1 4.7 1 2.9 1-.4 1-6.1 1-.5 1 7.4 1-3.0 1-3.1 1 .5 1-.9 1 4.7 1-2.0 1 1.1 1 1.1 1-4.2 1 7.8 1-5.5 1 0 1-2.6 1 3.4 1-9.6 1 6.6 1 1.6 1 17.8 1-19.5 1 6.2 1 12.9 1-9.0 1-3.2 1-7.4 1 4.0 1-4.2 1 7.8 1-3.2 1 1.5 1 .6 1 .7 1-4.0 1-4.4 1 3.6 1 1.6 1 4.8 1-4.2 1-4.4 1 6.9 1 1.0 1-8.8 1 4.3 1 .1 1-3.2 1-1.4 1 2.4 1-9.1 1-.4 1-1.0 1 1.0 1 2.0 1-3.5 1-.1 1-2.5 1 6.5 1-.7 1 2.1 1-4.4 1 3.1 1-4.6 1 6.7 1 2.5 1-1.4 1-.6 1-6.1 1-.1 1 3.2 1 .7 1-6.2 1 6.8 1-4.1 1 2.4 1 .5 1 2.1 1-7.1 1 9.9 1-10.6 1 9.0 1-5.1 1-2.9 1 2.9 1-1.6 1 2.2 1 .4 1-7.1 1 4.1 1-2.4 1 1.9 1 3.9 1 2.1 1-6.7 1 .3 1-4.2 1 9.0 1 1.2 1-4.8 1 0 1 .9 1 6.4 1-10.2 1 4.6 1-1.0 1-2.4 1 5.0 1-5.6 1 2.5 1 .8 1-4.8 1 6.5 1-.4 1 5.1 1-11.6 1 12.0 1-4.6 1-3.1 1-.9 1-4.1 1 6.8 1-1.3 1-3.0 1 2.6 1 5.1 1-4.3 1 .5 1-4.9 1-.9 1 2.9 1 .7 1-4.6 1-.2 1 8.4 1-8.7 1 .6 1-.3 1 5.4 1-2.5 1 4.0 1-8.7 1 1.0 1 3.9 1 1.2 1-1.3 1-4.2 1 7.2 1 .9 1-.5 1-2.7 1-.5 1-.7 1-1.7 1-.8 1 6.4 1-5.1 1-1.1 1 1.1 1-.6 1 2.7 1-4.8 1 8.2 1-3.5 1-.2 1 2.4 1-7.4 1 6.4 1-6.4 1 4.5 1-2.7 1 2.0 1-2.5 1 2.2 1 .6 1-1.7 1 3.4 1-.3 1-1.0 1-3.4 1 .8 1-3.1 1 5.6 1-2.0 1 4.2 1-4.8 1-1.3 1 .1 1-.8 1-.2 1 .2 1-1.0 1-.4 1 3.6 1 7.4 1-2.8 1-5.7 1-.9 1 7.8 1 .7 1-2.8 1-2.6 1-1.5 1 1.8 1 1.7 1-5.9 1 1.8 1-.1 1-.5 1-2.0 1 7.5 1 23.5 1-12.0 1 6.7 1-2.1 1-.4 1-5.8 1 8.3 1 1.6 1 .3 1-7.9 1 4.5 1-6.2 1-1.7 1 4.0 1-4.5 1 7.5 1-8.7 1 9.6 1 6.3 1-6.8 1-2.2 1 7.1 1-2.8 1-2.8 1 3.6 1-2.9 1-.9 1-1.4 1 2.4 1-3.6 1 .9 1-1.0 1 6.5 1-6.0 1 3.2 1-.9 1-1.4 1-6.5 1 3.7 1 3.3 1 1.0 1 4.3 1-4.8 1 2.1 1-1.9 1-.5 1-4.6 1 7.8 1-1.8 1 2.6 1-2.3 1 3.6 1-5.9 1 2.8 1-10.9 1 14.1 1-5.2 1 4.1 1-6.6 1-5.8 1 5.1 1 13.5 1-13.3 1 8.0 1-5.0 1-5.5 1-7.9 1 12.6 1-4.5 1 1.9 1 2.2 1 12.1 1-7.3 1-7.5 1-5.3 1 16.4 1-7.4 1-3.1 1 1.8 1 1.1 1-2.9 1 9.9 1-9.7 1 2.3 1-2.4 1 8.3 1-7.2 1 1.4 1-1.7 1 .9 1 1.4 1 5.1 1-4.1 1-7.0 1 3.1 1 1.3 1 7.4 1-4.6 1 .4 1-.4 1 2.7 1-1.7 1-5.4 1 6.0 1-7.4 1 3.7 1-7.1 1 0 1 8.0 1-2.3 1-2.9 1 7.1 1 7.4 1-8.7 1 6.8 1-4.2 1-10.2 1 .7 1 3.2 1-7.8 1 17.0 1-7.4 1 4.4 1-12.8 1 9.7 1-3.8 1-1.9 1 4.5 1-2.3 1 3.9 1-2.2 1-23.6 1 .5 1 5.7 1-4.6 1 1.2 1-1.6 1 3.4 1-5.1 1 .1 1 2.9 1-.7 1 2.8 1-3.7 1-.5 1 .7 1 2.2 1 .6 1-5.4 1 3.3 1 2.8 1-.6 1-1.9 1-2.4 1 1.3 1 1.8 1-.4 1 1.2 1 16.9 1 2.3 1 4.3 1 .4 1 5.6 1-7.8 1-7.6 1 9.4 1 3.4 1-8.3 1 6.6 1 3.1 1-1.6 1-13.4 1 10.7 1-3.0 1-2.0 1 7.5 1-5.1 1-3.7 1 1.4 1 5.8 1 5.3 1-9.1 1 2.1 1-5.7 1 8.3 1-5.6 1 1.3 1 1.6 1 1.6 1-8.4 1 9.6 1 1.8 1-8.1 1-3.0 1 1.1 1 .3 1 .1 1-.6 1 2.6 1 8.5 1-14.1 1 2.8 1 8.5 1-6.3 1 1.9 1 3.7 1-7.8 1 5.0 1-2.5 1-2.6 1 3.1 1 3.9 1-3.8 1 .5 1 5.4 1 3.6 1-4.9 1-5.2 1 0 1 4.2 1 .2 1 1.5 1-4.1 1-.5 1 2.8 1-1.3 1-.7 1-3.3 1-3.5 1 6.7 1 1.7 1-3.8 1-9.9 1 3.6 1 8.4 1-5.2 1 4.2 1-.5 1-2.7 1 4.2 1 4.0 1-2.9 1 2.2 1-5.8 1-6.6 1 5.4 1 10.7 1-3.0 1-11.6 1 10.8 1-2.4 1-7.9 1 6.5 1 .9 1-5.1 1 9.1 1-10.6 1 4.7 1 1.4 1-5.4 1 .2 1 7.1 1-11.8 1-3.5 1 2.6 1-1.4 1 1.3 1 .8 1-.5 1-2.4 1 1.8 1 2.5 1-.7 1-.4 1-.3 1-1.7 1-.4 1 3.3 1-4.1 1 3.3 1-.5 1-3.6 1 2.2 1 3.3 1-3.4 1 1.3 1 .4 1-2.2 1-2.6 1 1.2 1 .4 1-.8 1 .3 1 1.3 1-2.1 1 1.6 1-1.6 1-.9 1-2.0 1 2.4 1-2.5 1 .3 1 .2 1 .2 1-1.0 1-1.6 1 2.1 1-4.6 1-1.0 1 .3 1 4.4" stroke="#4d4d4d" marker-start="url(#mint)" marker-mid="url(#mint)" marker-end="url(#mint)"/>
<path d="M0 374.4l1 -.9 1 .8 1 .2 1-2.2 1 1.0 1 1.6 1-1.9 1-2.2 1-.3 1 0 1 4.8 1-8.3 1 4.9 1 7.2 1-3.9 1-1.5 1 .4 1 6.0 1-1.5 1-3.8 1 3.8 1-9.3 1 5.0 1-9.4 1 11.7 1-2.2 1-7.4 1 10.6 1-5.4 1 .8 1 3.3 1 .5 1-3.2 1-.3 1 .7 1 4.0 1-5.4 1 1.5 1 2.1 1-.6 1-3.3 1-2.0 1 8.9 1-1.7 1-1.1 1-1.5 1 .3 1-2.1 1 3.0 1-5.3 1 3.1 1 3.0 1 .2 1-3.8 1 .9 1-1.4 1 5.0 1-2.9 1-1.1 1 1.8 1-4.4 1 3.9 1-1.6 1-.4 1 1.6 1 .7 1 1.0 1-3.6 1 4.5 1-.9 1-.6 1 .8 1-5.9 1 .4 1 4.7 1-4.0 1 5.3 1-3.4 1 1.0 1-1.7 1-.4 1 1.9 1 .3 1 2.3 1-7.4 1 5.2 1-1.4 1 4.3 1-2.9 1-6.5 1 5.4 1 8.5 1-10.3 1 4.5 1-5.6 1 6.1 1-6.4 1-1.7 1 7.4 1-4.2 1 1.0 1 1.6 1-3.3 1 2.2 1-1.2 1 4.4 1 1.1 1-7.6 1-.5 1 5.1 1-2.4 1-.6 1-3.2 1 1.4 1 .3 1 1.2 1-3.3 1 9.0 1-5.0 1 1.3 1 .3 1-1.1 1 .9 1 .2 1-2.0 1 2.7 1-2.2 1-1.4 1 1.7 1-.7 1 3.7 1-3.1 1 .8 1 5.1 1-1.8 1-3.0 1 2.0 1-5.7 1 5.4 1-.8 1-1.5 1 .2 1-6.2 1 3.9 1 8.5 1-6.1 1-1.5 1 5.7 1-1.8 1 .2 1-5.2 1 4.0 1 .3 1-6.7 1 5.6 1-3.0 1 .9 1 2.7 1-2.1 1-3.1 1 3.9 1-3.3 1 5.2 1 .3 1-.3 1-5.6 1 2.8 1 1.6 1-.2 1-6.3 1 8.6 1-6.1 1-3.7 1 2.1 1 5.9 1 2.0 1-2.0 1-.1 1-2.4 1 1.9 1-1.8 1-.6 1-1.0 1 1.9 1 1.1 1 .1 1 3.1 1-2.1 1-1.3 1 3.5 1 .2 1 .3 1-2.3 1-1.7 1 3.6 1-6.5 1 2.2 1 1.2 1-7.4 1 8.5 1-2.6 1-.3 1 1.1 1 1.9 1 3.9 1-5.9 1 3.7 1-3.1 1 .3 1-3.8 1 5.6 1-5.2 1 9.0 1-8.3 1 5.3 1-.6 1-2.5 1 .1 1 .5 1 4.1 1-9.1 1 5.3 1-5.2 1 2.2 1 1.2 1 2.4 1 .9 1-1.3 1-5.9 1 6.7 1-1.1 1-2.1 1 2.1 1 1.5 1-4.8 1 3.3 1 1.4 1 3.5 1-6.9 1 5.6 1-1.7 1-2.8 1 3.6 1 .4 1-3.9 1 .7 1-1.3 1-.4 1 2.7 1-2.1 1 2.7 1-2.5 1 1.4 1-2.0 1-1.3 1 2.5 1-.6 1 1.6 1-.9 1 2.4 1-2.0 1-.4 1 .2 1-3.1 1-1.8 1 4.8 1 .4 1-1.2 1-.6 1 3.2 1-1.8 1 .6 1 2.5 1-4.7 1 1.4 1 1.0 1-2.6 1 .9 1-4.4 1 8.1 1-3.4 1 7.2 1-6.2 1 1.5 1-1.7 1-1.1 1 1.6 1 .2 1 2.3 1-5.5 1 4.0 1-2.2 1 2.0 1-5.3 1 3.8 1 1.5 1-2.1 1-.3 1 .3 1 2.5 1 1.7 1-4.1 1 5.4 1-5.1 1 0 1 .1 1 3.8 1-5.9 1 7.1 1-5.1 1 3.2 1-.3 1-2.8 1 2.5 1-7.1 1 5.2 1 1.4 1-3.6 1 2.6 1 4.6 1-3.6 1-1.8 1 2.6 1-.6 1-1.0 1 1.2 1 0 1-3.5 1 3.2 1-3.2 1 2.2 1-6.7 1 5.5 1 .5 1 2.6 1-3.6 1-1.5 1 .3 1-3.0 1 4.4 1 .2 1-1.6 1 1.0 1 6.1 1-6.3 1 4.2 1-4.4 1 1.8 1 .1 1 .4 1-1.7 1 3.6 1-3.4 1 5.2 1-2.7 1 1.0 1 .6 1-2.6 1-5.2 1 2.1 1 5.1 1-1.8 1 1.9 1-.5 1-4.0 1 1.1 1 0 1-1.4 1 3.5 1-.1 1-2.8 1 4.1 1-6.0 1 10.3 1-8.8 1 3.1 1-4.4 1 2.8 1-2.3 1-1.2 1 .4 1 .4 1 4.6 1-3.0 1-.7 1-3.1 1 6.0 1-1.4 1 1.6 1-7.4 1 3.8 1 5.9 1 1.2 1-6.3 1 .9 1-.1 1 2.6 1-7.7 1 6.8 1 2.6 1-4.2 1 1.5 1 3.2 1 1.4 1-2.7 1 .1 1-4.2 1 2.4 1-1.4 1-1.8 1 4.4 1-.7 1-4.6 1 1.6 1 1.2 1-3.7 1 4.6 1-6.6 1 6.2 1-.6 1 2.8 1-2.0 1-4.4 1 3.5 1 1.1 1-.1 1-1.5 1-1.0 1 1.4 1-.1 1-11.5 1-.1 1 1.6 1-5.1 1 5.2 1-3.0 1 5.3 1-4.4 1 1.4 1-2.3 1 1.6 1 1.2 1-1.8 1-.2 1 .2 1-1.8 1 4.9 1-6.2 1 2.2 1-1.3 1-.4 1 6.3 1-5.2 1 .9 1 4.1 1 .3 1 .5 1-3.1 1-3.0 1 4.3 1-2.4 1 .5 1 1.0 1-.2 1-4.1 1 3.0 1-.2 1-.6 1-3.0 1 5.5 1-3.3 1 2.0 1-.1 1 .1 1-2.5 1 3.6 1 .3 1-1.9 1-.2 1 .7 1-.4 1-4.2 1 4.2 1-.5 1 1.5 1-3.0 1-1.1 1 .6 1 .4 1 2.9 1-2.9 1 2.6 1-3.9 1-1.4 1 2.5 1 4.3 1-3.2 1 2.6 1-4.1 1-.5 1 .8 1 1.2 1-2.2 1 .5 1-1.1 1 .6 1-.8 1 4.4 1-8.1 1-.3 1 1.9 1-5.1 1 2.7 1-.8 1 1.6 1-.4 1-.6 1 2.4 1-2.8 1-1.0 1 4.8 1-4.7 1 4.2 1-.6 1 1.3 1-4.2 1 0 1 2.7 1-5.4 1 3.5 1 .3 1 2.2 1-2.3 1-1.7 1 1.5 1-5.1 1 3.5 1 2.0 1 2.3 1-1.3 1-.7 1-1.8 1-.9 1-.3 1 2.3 1-.1 1-2.7 1 4.5 1-3.4 1 1.4 1 3.1 1-.7 1-3.3 1 .5 1 .9 1-.4 1 1.6 1-1.3 1 2.0 1 2.9 1-4.9 1 2.1 1-.3 1-4.0 1 6.9 1-6.2 1 1.2 1-.6 1-.9 1-.3 1 2.0 1 1.0 1-3.2 1 2.2 1 1.1 1-2.4 1 2.9 1 1.1 1-2.7 1-2.5 1-1.2 1 2.1 1 1.1 1-2.5 1-.4 1 6.8 1 0 1-4.7 1-1.7 1 3.8 1 1.1 1 20.3 1-1.5 1-2.5 1 6.4 1-5.0 1-2.9 1 4.4 1 1.8 1-.4 1 2.5 1-4.9 1-2.5 1-.1 1 6.8 1 1.2 1 4.1 1-11.2 1-3.3 1 3.7 1 2.9 1 1.9 1 3.0 1-2.0 1-.6 1-3.2 1-.6 1 4.2 1-8.7 1 5.4 1-5.3 1 5.2 1 2.3 1-3.7 1-.6 1 .4 1 7.4 1-5.1 1-4.6 1 5.0 1 1.0 1-3.0 1-6.8 1 6.6 1 1.5 1 1.2 1 3.0 1-2.0 1-6.9 1 2.2 1 .1 1 2.1 1 0 1 2.6 1-3.4 1-.4 1 .8 1 1.9 1-6.4 1 7.7 1-.1 1-7.6 1 .1 1 .6 1 2.0 1-2.5 1-.6 1 2.4 1-2.1 1-1.0 1 6.7 1-3.8 1-1.0 1 4.7 1 2.4 1 0 1-4.1 1 .6 1-.9 1 .8 1 .9 1-4.7 1-1.4 1 3.5 1-1.6 1 1.5 1-.5 1 1.5 1-.2 1 1.6 1 3.2 1-8.1 1 4.6 1 3.7 1-6.7 1 3.5 1-3.9 1-4.0 1 1.9 1 2.2 1 2.0 1-1.5 1 1.6 1-2.3 1-5.0 1 7.1 1-2.8 1-3.1 1 3.8 1 .7 1-6.2 1 3.2 1 .1 1-6.0 1 4.6 1 1.1 1 2.2 1 1.2 1-4.4 1 5.6 1-3.8 1-3.3 1 .2 1-.3 1 2.6 1 5.4 1-2.1 1-5.6 1 3.0 1 1.3 1-2.9 1-.6 1-7.8 1-2.3 1 .1 1 .1 1 1.6 1-1.6 1-2.3 1 4.3 1-.6 1-2.0 1-.2 1 2.5 1-.5 1-.1 1-1.0 1 .2 1-1.1 1 1.4 1 3.3 1-1.9 1-4.1 1 1.5 1 .6 1-.9 1 3.0 1-1.6 1 .2 1 15.9 1 .6 1-1.3 1 4.9 1-5.8 1 1.1 1-.4 1 4.2 1-3.9 1 1.1 1 .1 1 .3 1-2.6 1 1.5 1 3.0 1-.9 1-.2 1 3.8 1-2.0 1-5.9 1-.1 1 4.0 1-5.4 1 6.3 1-4.1 1 2.0 1 .4 1 .6 1 0 1-1.1 1 3.6 1-.5 1-1.7 1 4.8 1-1.4 1-8.2 1 4.9 1-1.5 1 3.0 1-2.1 1-6.5 1 6.9 1 1.4 1-7.4 1 3.6 1 2.8 1-3.7 1-.1 1 .1 1 7.1 1-4.6 1-.7 1 1.2 1 .5 1 2.6 1-.8 1-6.2 1-2.1 1 7.3 1-5.6 1 2.8 1-3.2 1 2.7 1 7.1 1-8.4 1 2.4 1 1.3 1 1.7 1-4.8 1 4.3 1-5.3 1 4.9 1-4.4 1-1.5 1 3.8 1-1.7 1 2.6 1-1.6 1-.2 1 5.3 1-.2 1-3.6 1 0 1 .1 1 2.8 1-8.1 1 .9 1 1.2 1-.1 1-.7 1 1.4 1 5.2 1-1.6 1 2.4 1-2.2 1-2.7 1 0 1 .2 1 2.7 1-.8 1-.1 1-.1 1-1.3 1-.2 1-11.5 1-.1 1 1.3 1 3.0 1-3.3 1 .4 1-2.4 1 3.7 1-2.5 1-1.4 1-.3 1 1.9 1 .9 1-1.9 1-1.1 1 .8 1 .1 1 1.7 1-2.6 1 .9 1-.3 1 .6 1-.4 1 .4 1 2.1 1-.7 1-.9 1-1.5 1 3.6 1-3.1 1 .5 1 2.8 1-2.7 1-.5 1 1.9 1-.6 1 1.2 1-.5 1-1.5 1 2.4 1-1.9 1-.3 1-.7 1 .1 1-.6 1 .4 1 1.0 1 .4 1-3.5" stroke="#f58a4e" marker-start="url(#mgen)" marker-mid="url(#mgen)" marker-end="url(#mgen)"/>
<path d="M0 361.1l1 1.5 1 4.5 1-1.4 1-1.9 1-2.4 1 2.3 1-2.8 1 .9 1 .6 1 .9 1 .4 1-2.2 1 6.6 1-7.8 1 2.3 1 2.5 1 .1 1-.7 1-.7 1-1.1 1-.3 1-1.1 1 6.8 1-5.3 1 .9 1 3.4 1 3.4 1-8.6 1 .5 1-2.2 1 4.5 1-1.7 1 .7 1 .9 1 1.1 1 .9 1 .8 1-7.2 1 6.4 1-3.5 1 .7 1 4.3 1-4.1 1-3.0 1-1.9 1 2.8 1 .9 1 4.8 1-2.5 1 1.9 1-5.7 1 3.0 1-3.7 1 5.8 1 .5 1 1.4 1-6.6 1 6.4 1-6.8 1 4.4 1-4.5 1 3.9 1 4.9 1-8.0 1 5.4 1 1.0 1-3.5 1 3.8 1-1.4 1 2.6 1-1.8 1-4.2 1 5.5 1-2.6 1-.9 1 3.4 1 1.2 1-6.5 1 6.1 1-2.8 1-1.8 1 2.5 1-7.4 1 10.2 1-3.5 1-1.7 1-2.8 1 .3 1 .8 1-2.2 1 8.1 1-10.0 1 12.5 1-8.3 1-.1 1 2.8 1 2.8 1-5.0 1-2.8 1 6.2 1-7.5 1-.2 1 2.7 1 4.8 1-.6 1 3.2 1-5.5 1-.7 1-5.1 1 8.8 1 3.2 1-5.6 1 2.2 1-6.1 1 7.7 1-1.6 1 2.0 1-5.0 1-4.0 1 4.4 1 .2 1-1.8 1-2.4 1 8.5 1-5.8 1-2.5 1 7.1 1-6.4 1 4.2 1 2.7 1-11.6 1 7.2 1-2.0 1-1.2 1 5.0 1-5.1 1 8.6 1-7.4 1-.4 1 3.8 1-.8 1-.1 1 .6 1-4.6 1 5.8 1-4.3 1 4.7 1-.4 1-.7 1-2.8 1 3.8 1-.9 1-3.1 1 1.3 1 4.2 1-6.9 1 5.1 1-1.9 1-4.8 1 5.3 1 4.5 1-1.1 1-1.1 1-2.5 1-1.2 1-.1 1 .8 1-1.4 1 4.4 1-5.4 1 2.6 1 .1 1-4.9 1 5.0 1-2.3 1 3.2 1-7.1 1 6.6 1-.6 1-.9 1-6.2 1 9.8 1 .4 1 1.7 1-4.6 1 3.5 1-5.2 1 4.2 1-6.4 1-4.7 1 14.7 1-9.6 1 8.1 1-8.2 1 3.1 1 2.9 1 3.6 1-6.8 1-1.9 1-.6 1 3.7 1-2.8 1 .4 1-.4 1 4.6 1-.4 1-7.6 1 4.0 1 .7 1-1.5 1 4.2 1-8.2 1 2.0 1 3.8 1 .1 1-1.9 1 3.1 1-.9 1 .6 1-1.3 1-1.4 1-.4 1 3.3 1 .4 1-8.3 1 8.6 1-7.5 1-.7 1 2.6 1 6.9 1 .2 1-10.7 1 4.7 1-2.5 1 7.4 1 2.7 1-5.7 1 6.3 1-1.7 1-7.2 1 7.0 1-5.4 1 2.0 1-1.8 1 5.1 1-3.9 1 3.5 1-3.2 1-3.8 1 .8 1 3.0 1-.3 1 0 1-4.9 1 6.3 1-2.0 1 2.3 1-2.6 1 1.1 1-1.5 1 5.3 1-4.4 1 2.4 1-6.2 1 1.6 1 1.1 1 .4 1 .4 1 5.4 1-5.6 1 .7 1-4.2 1 7.5 1-1.9 1-2.8 1 .1 1-2.7 1 5.2 1-3.2 1-.4 1 1.0 1 1.4 1-3.9 1 5.2 1-5.8 1 5.8 1-5.9 1 3.2 1 2.3 1-2.5 1-4.5 1 3.2 1 1.6 1 2.9 1-5.3 1 4.8 1-2.8 1 4.8 1-3.8 1 4.1 1-3.8 1 .9 1 2.9 1-9.7 1 5.2 1 1.2 1 .5 1-4.4 1 .4 1-.4 1 7.8 1-6.8 1 1.2 1 1.4 1-1.4 1-1.2 1 1.6 1 2.2 1-1.7 1-5.0 1 7.9 1-9.1 1 8.4 1-3.1 1-4.3 1 6.3 1-4.2 1-1.5 1 1.6 1 4.1 1 1.0 1-5.4 1 5.2 1-.9 1 1.4 1 3.3 1-4.8 1-2.1 1-.3 1-1.3 1 4.7 1-2.0 1 1.5 1-2.6 1-2.1 1-.7 1-.7 1 3.5 1 .5 1 2.4 1-7.7 1 7.2 1-5.3 1 5.3 1 2.1 1-1.7 1-5.6 1 3.0 1 2.0 1-3.5 1 4.5 1-4.1 1 1.0 1-.3 1 2.8 1-6.7 1 2.8 1-2.0 1 4.1 1-.6 1 1.2 1-2.5 1 .8 1-4.4 1 6.7 1-2.8 1-5.6 1 6.4 1-1.3 1 5.6 1-.1 1-6.4 1-.7 1 2.6 1 2.4 1-1.9 1 4.0 1-5.0 1-.9 1-2.5 1 3.8 1-.5 1-.7 1-1.0 1 .2 1 5.3 1-4.5 1 2.6 1 2.5 1-1.3 1-1.1 1-4.0 1 5.6 1-2.4 1 .3 1-.3 1 5.3 1-5.0 1-2.7 1 4.5 1-4.2 1 .2 1 1.3 1-3.1 1 3.3 1-.3 1 2.4 1-.6 1-4.3 1 1.1 1 1.5 1 .1 1 1.2 1-4.7 1 4.0 1-2.4 1 .8 1-1.0 1 .9 1-1.5 1 3.4 1 2.0 1-.2 1-4.0 1 3.5 1-.8 1-2.4 1 5.0 1-3.8 1 2.3 1 4.1 1-3.2 1-1.4 1-2.5 1 1.0 1 2.9 1-3.1 1 4.1 1 1.1 1-2.2 1 .5 1-4.2 1 2.1 1 1.6 1 .6 1-1.5 1 .6 1-5.2 1 5.4 1-1.4 1-2.5 1 1.3 1 2.7 1-1.8 1 1.0 1 .9 1-1.1 1 .3 1 .7 1 .6 1-3.8 1 5.0 1-2.4 1 2.4 1-3.0 1-2.3 1 .5 1 2.1 1-2.1 1 .9 1 .6 1 2.1 1-2.3 1 2.6 1-3.5 1-1.2 1 .7 1 2.9 1 .2 1-6.5 1 7.5 1-4.6 1 1.3 1-1.8 1 5.2 1-2.6 1-1.6 1 1.6 1-.6 1-1.4 1 1.5 1 .8 1 .2 1 .8 1-2.2 1-2.7 1 3.4 1-2.1 1-3.1 1 2.4 1-1.9 1-.9 1 4.4 1-1.7 1-1.9 1 1.4 1-2.6 1-1.1 1 2.8 1-2.1 1 2.8 1-2.1 1-.1 1 .3 1 .7 1-1.0 1 2.9 1-.4 1-.3 1-1.8 1 .6 1 2.9 1-2.3 1 1.2 1-.5 1-1.6 1 .8 1 2.1 1-3.3 1-.9 1 1.2 1 1.5 1 1.4 1-3.0 1 1.9 1-3.1 1-.4 1 4.3 1-2.6 1 4.1 1-5.0 1 .3 1 2.6 1-.8 1 .6 1-2.4 1-2.9 1 3.5 1-.1 1 1.4 1 2.3 1-3.2 1 .7 1 5.2 1-4.9 1 .3 1 3.8 1-.9 1-8.0 1 5.9 1-.8 1 .4 1 .4 1-1.8 1 0 1-2.0 1 1.1 1 2.9 1 1.9 1-4.1 1-2.5 1 4.8 1-5.1 1 5.7 1-.8 1-4.3 1 3.3 1-1.4 1-.6 1 .4 1 .5 1 2.1 1 9.1 1 .1 1 1.8 1 1.0 1-2.8 1-1.9 1 6.7 1-11.8 1 8.9 1-1.5 1-9.0 1-2.4 1 4.5 1 5.5 1-4.3 1-1.1 1-.5 1 7.6 1-.1 1-5.3 1-3.8 1-1.7 1 7.6 1 .1 1-.6 1-.4 1-6.8 1 3.8 1 1.5 1 1.6 1 5.5 1 2.0 1-9.2 1-1.5 1-3.2 1 4.7 1-.4 1 4.1 1-8.2 1 2.7 1 4.5 1-3.2 1 .8 1 6.5 1-4.6 1-7.3 1 9.1 1-.1 1-1.4 1-5.9 1 6.5 1-.3 1-2.6 1 7.2 1 .7 1-2.8 1-1.6 1-5.5 1 5.5 1-4.0 1-2.0 1 1.5 1-3.3 1-3.0 1 5.3 1 1.5 1 .2 1-6.5 1 9.0 1 6.7 1-7.4 1 3.1 1-6.6 1-.6 1 2.5 1 3.6 1-1.7 1-.6 1-2.4 1 8.0 1-8.8 1-.3 1 2.0 1 1.2 1 .1 1-6.4 1 8.8 1-.7 1 2.5 1-10.4 1 3.7 1 8.3 1-14.2 1 10.9 1-4.7 1 1.1 1-2.2 1 1.7 1 1.3 1 4.5 1-7.3 1 1.6 1 3.0 1-3.6 1 7.4 1 3.3 1-5.9 1 2.8 1-7.1 1 6.7 1-3.8 1-3.2 1 2.5 1 6.2 1-2.2 1-4.8 1-2.2 1 5.5 1-10.5 1 10.2 1-4.1 1-4.0 1 6.5 1-4.7 1 10.7 1-7.2 1-1.3 1-5.6 1 2.2 1 5.5 1 2.2 1-3.3 1 .8 1 1.1 1-5.1 1-.2 1 2.2 1 .9 1-1.5 1-1.0 1 2.5 1 .7 1 .1 1 1.5 1-4.1 1 3.2 1-3.3 1-3.4 1 8.1 1-7.2 1 4.3 1-.7 1 3.5 1-2.8 1-.1 1-3.1 1 .6 1 2.4 1 1.2 1-2.3 1 3.8 1 8.7 1-9.1 1-5.0 1 4.2 1-9.6 1 12.9 1-3.8 1-.7 1 2.6 1-4.9 1-1.9 1 2.1 1 .4 1 4.2 1-3.8 1 3.0 1-8.6 1 6.2 1 6.7 1-.6 1-10.2 1 8.2 1-6.0 1 5.4 1-4.4 1 1.1 1-1.7 1 9.4 1-4.9 1-3.2 1 2.0 1 4.6 1-7.6 1 4.6 1-5.6 1 1.2 1 .6 1-3.2 1 6.8 1-4.5 1 6.6 1 2.8 1-9.7 1-5.0 1 3.5 1 1.3 1 8.0 1-8.9 1 9.5 1-5.0 1-3.3 1 2.3 1 4.1 1-3.2 1 2.8 1-2.6 1-2.3 1 .7 1-1.6 1 4.5 1 5.3 1-2.8 1-.8 1-3.0 1-5.7 1 7.1 1-3.3 1 7.5 1-4.6 1-6.2 1 3.4 1-5.5 1 5.4 1 .9 1 .1 1 6.2 1-5.4 1 6.1 1-4.8 1-4.4 1-5.9 1 10.0 1-1.9 1 1.6 1-4.0 1 .5 1-3.0 1 7.9 1-8.8 1 3.3 1 7.7 1-2.7 1-2.4 1 6.6 1-2.3 1-6.2 1 4.6 1-7.9 1-.2 1 6.3 1-4.5 1-1.0 1 1.7 1-.4 1-2.0 1 3.1 1-2.4 1 2.3 1-2.1 1-.3 1 3.1 1-1.7 1-1.7 1 0 1 3.0 1-2.4 1-1.3 1-.7 1 4.9 1-.9 1-1.9 1-1.5 1 3.7 1-4.1 1 .7 1 2.5 1-1.3 1-.5 1-.3 1 2.0 1-2.9 1-.3 1 2.5 1 .4 1 .3 1-3.2 1 1.9 1-2.2 1 1.5 1-.5 1 1.1 1 2.1 1-2.5 1 1.1 1-2.6 1 2.4 1-.7 1-.9 1-1.0" stroke="#8a8a8a" marker-start="url(#moth)" marker-mid="url(#moth)" marker-end="url(#moth)"/>
<path d="M0 402.8l1 -2.6 1-.7 1 1.6 1-1.1 1 1.4 1-1.8 1-1.1 1 4.0 1-4.3 1 4.2 1-.8 1-2.4 1 .8 1-.5 1-.2 1 2.1 1-1.6 1-.7 1 2.0 1-1.1 1-1.8 1 1.1 1-1.2 1 3.6 1-3.7 1 .2 1 2.3 1-1.5 1 1.8 1-1.5 1 1.1 1-.4 1-.1 1-.2 1 .9 1-2.1 1 3.7 1-3.9 1 1.3 1 .3 1 .4 1 1.7 1-2.5 1 .5 1 .2 1-1.7 1 .9 1 1.0 1-1.8 1 2.7 1-1.1 1-1.4 1 .2 1 .2 1 .3 1-.2 1 .5 1-1.4 1 1.8 1-.4 1 .7 1-2.4 1 1.5 1-.2 1 .1 1-.2 1 0 1 2.7 1-4.5 1 .4 1 .4 1-1.7 1 3.2 1-2.0 1 1.4 1-2.7 1 4.1 1-4.7 1 1.7 1-.4 1 2.2 1-1.6 1-2.9 1 2.0 1-.5 1 4.7 1-6.2 1 .1 1 2.3 1-3.7 1 6.3 1-2.9 1-2.9 1 1.8 1 0 1 2.4 1-3.1 1 3.6 1-1.8 1 2.7 1-3.4 1 .5 1-.9 1-.7 1 2.2 1 .6 1 2.0 1-2.3 1-2.5 1 2.1 1 1.5 1 .3 1-1.6 1-2.4 1 5.0 1-2.5 1-.4 1-.2 1-.8 1-2.2 1 2.2 1 1.0 1-.4 1 1.1 1 .7 1-1.1 1-1.8 1 3.9 1-5.4 1-.6 1 1.6 1 .3 1 5.6 1-1.6 1-1.9 1-2.6 1-.8 1 .9 1 3.6 1-1.1 1-1.1 1 .9 1 .3 1 1.2 1-4.9 1 3.5 1-.5 1 1.4 1-.8 1-.7 1-.7 1 1.2 1-.8 1 2.6 1-5.2 1-.3 1 2.2 1 3.6 1 1.0 1-7.0 1 1.8 1 4.0 1-2.6 1-.5 1-2.0 1-3.2 1 3.4 1 .7 1-.4 1 0 1 2.2 1 2.0 1-6.8 1 3.1 1 .8 1-1.4 1 1.3 1-.5 1-.3 1 .8 1 .5 1-2.5 1 3.0 1 1.4 1-3.2 1 2.6 1-.2 1-3.7 1 1.8 1 1.4 1-1.2 1 1.9 1-2.3 1-1.4 1 3.6 1 2.3 1-2.1 1-2.3 1 1.4 1-5.7 1 5.2 1 .7 1-.7 1-.6 1-.3 1 2.1 1-.9 1-2.9 1 4.3 1-1.1 1 .4 1-3.5 1 1.8 1 2.8 1-1.3 1-4.4 1 5.7 1-1.2 1-2.6 1 2.1 1-2.2 1 2.0 1-2.5 1 1.6 1 1.1 1-.6 1 2.7 1 .3 1-1.3 1-.7 1-2.0 1 2.1 1-4.0 1 2.5 1 .8 1 .8 1-2.8 1 1.2 1-2.3 1 6.1 1-.9 1-4.8 1 4.5 1-1.0 1 3.9 1-5.3 1 1.0 1 .6 1-.7 1 1.1 1 0 1 3.0 1-4.7 1-2.3 1 5.7 1-3.7 1 3.0 1-2.8 1 2.9 1 .5 1-3.2 1-1.7 1 1.3 1 2.8 1-2.2 1 2.1 1-1.0 1 1.2 1-4.0 1-1.0 1 4.2 1-1.1 1-3.3 1 2.1 1 1.6 1-2.3 1 3.2 1-.5 1-1.4 1 1.3 1-2.2 1 .8 1 4.3 1-4.2 1-1.1 1 2.3 1-2.9 1 1.1 1 .1 1 2.5 1-2.0 1 .9 1-3.6 1 2.9 1-3.6 1 1.7 1 1.9 1 .4 1-1.9 1 4.8 1-2.6 1-1.5 1 .9 1-3.0 1 2.1 1 2.0 1-.8 1 .1 1-4.4 1 5.2 1-1.6 1-1.2 1 3.4 1-.8 1-3.2 1 0 1 4.8 1 .5 1-4.8 1-1.1 1 2.9 1-3.9 1 3.4 1-.2 1 1.4 1 .8 1-2.5 1 3.5 1-2.7 1-.5 1-.7 1 2.5 1-1.9 1 2.1 1 .4 1-3.6 1-.1 1 .5 1 3.5 1-2.4 1 1.6 1-3.2 1 4.6 1 .1 1-.9 1-.6 1-1.3 1 .2 1 3.1 1-4.7 1 1.1 1-2.0 1 1.7 1 .4 1-1.0 1 1.3 1-.1 1 1.4 1-1.6 1-1.3 1 2.3 1-1.2 1 .7 1-2.3 1 1.7 1-3.3 1 3.8 1 1.3 1 1.2 1-2.3 1 1.8 1-1.1 1-1.0 1 .1 1 1.7 1 1.1 1-2.1 1-2.5 1 1.3 1 2.2 1-.9 1-.1 1-1.9 1 .8 1 1.5 1 1.7 1-4.8 1 2.7 1 .1 1-3.2 1 5.7 1-3.8 1 2.1 1-1.4 1-.7 1-1.3 1 .9 1 2.3 1-.3 1-1.0 1 .8 1-2.2 1 2.0 1-2.5 1-1.5 1 3.4 1-.1 1-.9 1-2.7 1 3.9 1-.6 1 0 1 .7 1-.6 1-3.4 1 5.2 1-1.5 1-1.8 1 3.7 1-3.5 1-.1 1 1.9 1-1.8 1 0 1 3.2 1-5.1 1-.2 1 3.2 1 1.0 1-4.5 1 3.3 1-1.8 1-.1 1 .6 1 .9 1 1.5 1-2.6 1 .6 1 .6 1-3.8 1 3.3 1 .3 1-1.5 1 2.3 1 1.0 1-.9 1 .1 1 .6 1-2.0 1 .4 1-.6 1-.8 1 2.6 1-2.1 1 1.3 1-.2 1-.2 1-1.2 1 2.3 1-1.8 1-.3 1-.1 1-2.5 1 4.8 1-.9 1-.4 1-.8 1 0 1 1.1 1-2.8 1 3.9 1-2.4 1 1.4 1-3.3 1 2.5 1 .8 1 1.3 1-2.5 1 1.4 1 1.8 1-4.4 1 4.4 1-.1 1-1.5 1-2.5 1 .4 1 .5 1 .3 1-1.4 1 2.2 1-.1 1-1.4 1-.3 1 1.6 1 2.9 1-2.9 1 0 1-.6 1-.3 1-.5 1 1.6 1-1.8 1 .3 1 3.2 1-.4 1-.4 1 .3 1-1.5 1-19.9 1 1.9 1-1.4 1 1.4 1-4.7 1 5.3 1 .6 1-3.8 1-.1 1 1.8 1-.4 1 .4 1-.1 1-.8 1 1.3 1-1.8 1 .1 1 1.0 1-.5 1 .4 1-.2 1-.8 1 .3 1-.2 1 2.0 1 2.5 1-2.8 1-.7 1 0 1-2.4 1 4.5 1-.4 1-4.2 1 .3 1 .8 1 1.2 1 1.2 1-.5 1 1.4 1-2.3 1-.3 1 3.7 1-2.3 1-4.0 1 2.4 1 0 1 2.5 1-3.0 1 3.4 1-1.3 1-1.4 1 3.8 1-1.8 1-2.5 1 .7 1 .1 1-1.3 1-.7 1 1.7 1 1.4 1-1.5 1 .6 1-1.5 1 3.5 1-2.5 1 .9 1-2.0 1 2.2 1-3.3 1 1.8 1-1.3 1 3.0 1-1.7 1 .4 1-.9 1 2.5 1 .6 1-2.2 1 1.6 1 .6 1-1.9 1-.3 1 .1 1 26.1 1-3.6 1-.1 1-2.0 1-1.2 1-.1 1 4.3 1-2.1 1-.5 1 3.0 1 .9 1-1.8 1-.2 1-.2 1-1.0 1 1.3 1 1.0 1-6.3 1 12.1 1-8.4 1 2.2 1-2.3 1 3.6 1-1.8 1 1.5 1-2.8 1 .7 1 5.5 1-2.1 1-4.2 1 1.1 1-2.0 1-1.2 1 5.0 1-1.8 1 .4 1 .9 1 .3 1-4.7 1-1.3 1 1.9 1 3.0 1 1.7 1-.8 1-2.3 1-.3 1 1.4 1-3.5 1 3.8 1-1.7 1 3.2 1-2.0 1-1.7 1 1.3 1 1.9 1-2.1 1-2.6 1 5.2 1-2.8 1 4.1 1-7.3 1 8.8 1-3.7 1-2.5 1 3.6 1 3.0 1-4.3 1-2.9 1 3.5 1 .4 1-1.7 1 4.4 1-4.2 1-.1 1-1.1 1-.1 1 5.3 1-4.0 1-3.2 1 4.1 1-2.0 1-.7 1 .7 1 2.0 1-4.8 1 1.2 1 1.4 1 2.0 1-3.5 1 1.7 1 4.4 1-4.5 1 .4 1-1.4 1 2.4 1 2.7 1-10.1 1 8.3 1 .1 1 .8 1-3.7 1 1.0 1 1.8 1-.4 1 .9 1 .7 1-3.6 1 1.8 1-3.4 1 .7 1 2.4 1 2.6 1-3.0 1-1.0 1-1.0 1-1.8 1 4.8 1-.2 1-1.8 1 .7 1 .2 1-4.0 1 3.6 1 2.8 1 .2 1-5.5 1 3.7 1-.9 1 2.9 1-1.6 1-2.9 1-1.6 1-1.5 1 .4 1 4.8 1-2.3 1-2.1 1-.2 1 3.9 1-6.5 1 6.0 1-1.8 1-1.4 1-5.5 1 1.7 1-12.8 1 12.5 1-8.5 1 9.9 1-14.9 1 12.8 1-3.8 1 5.5 1-12.5 1 12.1 1-6.3 1 4.5 1-2.8 1 11.2 1 3.4 1-3.1 1 1.7 1-.7 1-1.8 1-.8 1 1.4 1 1.5 1-1.4 1-.6 1-.3 1 2.1 1 .7 1 1.3 1-2.8 1 .1 1-1.3 1 .1 1 2.2 1-5.5 1 2.9 1-.1 1 2.1 1-.4 1 2.4 1-5.0 1 .6 1-1.0 1 3.0 1-1.6 1 1.8 1-.7 1-.1 1-2.3 1 4.2 1-.6 1-1.2 1-1.9 1 2.8 1 1.6 1-1.8 1 .2 1 .3 1-1.0 1 1.0 1 .7 1-.2 1-2.2 1 .5 1-4.5 1 2.8 1 3.1 1 .2 1-2.1 1 1.3 1-1.7 1 .7 1 .4 1 .4 1-2.8 1 4.1 1-1.8 1 2.7 1-.3 1-4.5 1 2.1 1 2.1 1-4.3 1 2.1 1-.2 1 .8 1-1.1 1 1.7 1-.6 1-.5 1 1.6 1-.4 1-.4 1-4.0 1 5.1 1-1.3 1-.7 1-2.7 1 4.5 1-4.8 1 3.1 1-4.6 1 4.7 1-2.3 1 4.1 1 .3 1 0 1-.9 1-1.2 1 1.5 1-1.4 1-1.8 1-.4 1 2.8 1 1.9 1-.5 1 .3 1-1.8 1-.8 1-2.6 1-1.4 1 .3 1 1.6 1-.6 1 .7 1-.4 1 1.5 1-.1 1 0 1 .6 1-3.1 1 .9 1 .9 1-1.8 1 .7 1 2.2 1-1.7 1-1.3 1 1.5 1 .7 1 0 1-1.5 1 .7 1-.1 1 .1 1-.5 1-1.2 1 3.1 1-3.2 1-1.2 1 3.3 1-1.8 1 4.0 1-4.0 1 2.0 1-3.2 1 3.2 1-.8 1-.8 1 .3 1-.3 1 1.0 1-1.5 1 1.6 1-1.4 1 3.0 1-19.3" stroke="#4f68c4" marker-start="url(#mext)" marker-mid="url(#mext)" marker-end="url(#mext)"/>
</g>

<!-- ============ Panel B ============ -->
<text x="13" y="462.4" font-size="49.8" textLength="29" lengthAdjust="spacingAndGlyphs">B</text>
<rect x="564.9" y="465.4" width="110.6" height="350.5" fill="#e6e7e9"/>
<rect x="564.9" y="465.4" width="110.6" height="34.8" fill="#eeeeef"/>
<rect x="564.9" y="800.8" width="110.6" height="14.6" fill="#e9e9ea"/>
<path class="ax" d="M148 477.2V464.5H783.6V477.2M564.9 464.5V477.2M675.3 464.5V477.2"/>
<path class="ax" d="M148.8 806.4V816.6H783.5V806.4M197.7 816.6V806.4M451.4 816.6V806.4M563.4 816.6V806.4M656.2 816.6V806.4M675.6 816.6V806.4M747.3 816.6V806.4"/>
<path class="ax" d="M133.6 482.9V802.3M122.4 801.5H133.6M122.4 758.9H133.6M122.4 724.0H133.6M122.4 685.1H133.6M122.4 642.5H133.6M122.4 603.5H133.6M122.4 564.8H133.6M122.4 522.4H133.6M122.4 483.7H133.6"/>
<g font-size="29.6" text-anchor="end">
<text x="118.3" y="807.7" textLength="15.4" lengthAdjust="spacingAndGlyphs">0</text>
<text x="117.6" y="768.1" textLength="29.4" lengthAdjust="spacingAndGlyphs">50</text>
<text x="117.6" y="728.5" textLength="43.2" lengthAdjust="spacingAndGlyphs">100</text>
<text x="117.6" y="688.9" textLength="43.2" lengthAdjust="spacingAndGlyphs">150</text>
<text x="117.6" y="649.3" textLength="45.4" lengthAdjust="spacingAndGlyphs">200</text>
<text x="117.6" y="609.7" textLength="45.4" lengthAdjust="spacingAndGlyphs">250</text>
<text x="117.6" y="570.1" textLength="45.4" lengthAdjust="spacingAndGlyphs">300</text>
<text x="117.6" y="530.5" textLength="45.4" lengthAdjust="spacingAndGlyphs">350</text>
<text x="117.6" y="490.9" textLength="45.4" lengthAdjust="spacingAndGlyphs">400</text>
</g>
<text transform="translate(64 758.6) rotate(-90)" font-size="29.8" textLength="245.3" lengthAdjust="spacingAndGlyphs">No. of FSF domains</text>
<rect x="148" y="793" width="636" height="7.8" fill="url(#hatch)"/>
<g class="dp" transform="matrix(0.7039 0 0 1 148.4 0)">
<path d="M0 595.2l1 1.9 1 3.0 1 2.9 1 2.0 1 2.1 1 2.8 1 3.0 1 .6 1 .1 1 .5 1 .8 1-.6 1 .6 1 .1 1 1.2 1 .5 1 1.1 1 .5 1 2.0 1 1.0 1 1.2 1 1.3 1 1.6 1-.4 1 1.6 1 .6 1 .8 1 1.2 1-.4 1 1.2 1 .6 1 .8 1 .9 1 .6 1 .5 1 1.0 1 .7 1 .5 1 .4 1 1.3 1 .2 1 .5 1 .6 1 .7 1 1.6 1 .1 1 .4 1 .5 1 .9 1 .6 1 .9 1-.3 1 1.1 1 .6 1 1.0 1 .2 1 1.8 1 1.1 1 3.0 1 .6 1 1.6 1 2.8 1 1.3 1 1.9 1 4.1 1 2.5 1 .7 1-.1 1-137.8 1 6.7 1 .1 1 1.3 1 1.3 1 .2 1 .3 1 .8 1 .8 1 .2 1 .6 1 .8 1 .2 1 .3 1 .2 1 .7 1 .4 1 .8 1 .2 1 .1 1 .4 1 .8 1 0 1 .6 1-.2 1 .7 1 .1 1 .1 1 0 1 1.1 1 .7 1 .4 1 0 1 .2 1-.1 1 .9 1 0 1 .2 1 0 1 .5 1 .2 1-.3 1 .9 1 0 1 .7 1 .1 1-.2 1 .6 1-.5 1-.5 1 1.0 1 0 1-.1 1 .1 1 1.3 1-.8 1 .4 1 .2 1 .5 1 .2 1 .5 1-1.1 1 .7 1 0 1 .7 1-.3 1 .4 1 .8 1-.5 1 .2 1 .7 1 .2 1-1.3 1 .7 1-.4 1 1.1 1-.4 1 .1 1 .7 1 .4 1-.2 1-.7 1 .5 1-.2 1 1.6 1-.8 1-.4 1 .8 1 .9 1-1.0 1-.2 1 .7 1 .3 1 .2 1 .6 1-1.3 1 .9 1-.3 1-.3 1 .7 1 .5 1 0 1-.1 1 .6 1-.3 1 .5 1-.1 1 .1 1-.3 1 .6 1 .2 1 .5 1-.2 1-.4 1 1.0 1-.1 1 .2 1-.5 1 .4 1 .2 1-.1 1 .5 1-.5 1 .2 1 1.0 1-.7 1 1.4 1-.6 1-.2 1 .8 1-.6 1 1.0 1-.7 1 1.0 1-.5 1 0 1 1.1 1 0 1-.4 1 .2 1-.2 1 .5 1 .6 1-.3 1 .2 1-.3 1 1.0 1-.3 1 .7 1 .4 1-.4 1 0 1 .3 1 .3 1-.2 1 .3 1-.6 1 1.3 1-.2 1 .9 1-.6 1 .5 1 .2 1 0 1 .7 1-.4 1 .2 1 .3 1 0 1 .5 1-.5 1 .8 1-.8 1 .8 1-.1 1 .3 1 .4 1 .1 1 .3 1-.5 1 1.4 1-.6 1 .1 1 0 1 .8 1-.7 1 .6 1 .3 1-.2 1 0 1 .1 1 .8 1 0 1 .5 1 .2 1 .3 1-1.0 1 1.0 1-.5 1 .1 1 .2 1 .4 1 .8 1-.1 1 .2 1-.8 1 1.6 1-.5 1 .5 1-.2 1 .1 1-.4 1 .7 1-.9 1 1.3 1-.1 1 .9 1 .3 1-.1 1 .4 1 0 1 1.0 1-.7 1 .8 1-.6 1 1.1 1 .2 1 .1 1 .4 1 .4 1-.1 1 .4 1 .9 1 .2 1 .1 1-.5 1 .9 1-.1 1 .1 1 .3 1 .7 1-.3 1 .1 1 .3 1 .6 1-.2 1 .3 1 .5 1 .3 1-.6 1 .8 1 .7 1 .5 1 0 1 .1 1 .1 1 .6 1 .5 1 .4 1 .2 1-.5 1 .9 1 .8 1 0 1 0 1 .3 1 .1 1 .5 1 .5 1-.5 1 .5 1 .5 1-.1 1 .6 1 .3 1 .4 1 .5 1 .3 1 .1 1 .5 1-.3 1 .9 1-.3 1 1.2 1-.4 1 .6 1 .3 1 .5 1 .4 1 .2 1 .5 1 .9 1 .5 1-.1 1 1.0 1-.1 1 .4 1 .2 1 .9 1 1.1 1-.9 1 .9 1 .8 1-.4 1 .8 1 1.0 1-.6 1 .9 1 .7 1 .1 1-.8 1 1.0 1 .4 1 .3 1 .2 1 .5 1 .2 1 .4 1 .4 1 .2 1 .5 1 1.4 1 0 1 .2 1-.2 1 .8 1 1.0 1-.1 1 .6 1 .5 1 .3 1 .8 1 .6 1-.4 1 1.0 1 .3 1 .1 1 .2 1 1.6 1-.2 1 2.5 1 2.3 1 2.5 1 2.2 1 1.6 1 .7 1 .9 1 3.0 1 .7 1 1.7 1 1.2 1 1.5 1 2.7 1 .4 1 2.6 1 1.6 1 1.6 1 2.0 1 1.0 1 2.6 1 3.0 1 4.3 1-164.3 1 21.1 1 2.5 1 2.7 1 1.6 1 .3 1 0 1 1.8 1 .2 1-1.1 1 1.8 1 .1 1 0 1 .1 1 .6 1 .6 1 .2 1 .8 1 .5 1-.5 1 1.9 1-.9 1 1.2 1 .3 1 .2 1-.4 1 1.8 1-.7 1 1.4 1 .1 1-.8 1 2.0 1 .5 1 .7 1 0 1 1.1 1 1.0 1 .1 1 1.0 1 .3 1-.3 1 .9 1 0 1 0 1 .5 1 .4 1 1.1 1 .2 1-1.0 1 .2 1 .8 1 .8 1-.3 1 0 1 .7 1 .8 1-.1 1 .4 1-.2 1 .5 1-.9 1 1.5 1 0 1-.4 1 .6 1 .7 1 .4 1-.1 1 .5 1 .2 1-.2 1 1.6 1-.4 1 .7 1-.4 1 1.0 1 .6 1 .2 1 .7 1 0 1-.3 1 1.0 1 .3 1 0 1 .2 1 .5 1 .5 1 .7 1 .9 1 0 1 .9 1 .1 1 .3 1 .8 1 .2 1 1.2 1-.4 1 .9 1-.2 1 2.1 1-.4 1 1.0 1 .7 1-.2 1 .1 1 .3 1-.3 1 .6 1-.1 1 .6 1 .2 1 .7 1-.9 1 1.2 1-.4 1 .4 1-.2 1 .8 1 .2 1-.4 1 1.1 1 1.8 1 1.0 1 .9 1 1.4 1 1.5 1 .9 1 1.6 1-.2 1 .4 1 1.2 1 .5 1 0 1 1.3 1 .1 1 0 1 .1 1 1.7 1-.9 1 1.5 1 .2 1 1.1 1 .3 1 .2 1 1.0 1 0 1 .9 1 .3 1 .5 1 .9 1 1.2 1 .1 1 1.3 1 1.7 1 .5 1 1.8 1-.1 1 .8 1 3.9 1 3.4 1 3.6 1-62.3 1-.2 1 1.5 1 1.2 1 0 1 1.2 1 .3 1 1.5 1 .2 1 .9 1 1.6 1 0 1 .9 1 1.4 1 .4 1 .7 1 1.7 1 2.4 1 .5 1 2.4 1 2.0 1 2.5 1 2.8 1 .8 1 .4 1 .3 1-.3 1 .3 1 1.0 1 .4 1 1.1 1-.1 1 2.9 1 3.9 1 4.5 1 1.7 1 2.8 1 1.6 1 2.0 1 2.1 1 1.0 1 1.1 1 2.4 1 1.4 1 .4 1 2.2 1 2.2 1 1.1 1 1.4 1 1.5 1 .7 1 2.6 1 .5 1 1.8 1 1.3 1 1.2 1 1.2 1 3.0 1-.2 1 1.8 1 .9 1 .8 1 1.2 1 1.1 1 .8 1 2.2 1 .3 1 .5 1 1.7 1 .7 1 1.5 1 1.3 1 1.4 1 2.9 1 1.6 1 2.1 1 1.6 1 2.8 1 1.0 1 3.4 1 1.9 1 2.7 1 1.0 1 2.6 1 1.5 1 .6 1 .5 1 1.9 1 1.6 1 1.2 1 .9 1 .6 1 .5 1 1.6 1 1.6 1 .5 1 .6 1 1.0 1 .9 1 .4 1 0 1 .7 1 .5 1 1.6 1 1.3 1 1.9 1 2.5 1 2.8 1 2.2 1 2.1 1 1.8 1 2.2 1 1.9 1 1.1 1 1.7 1 3.1 1 1.9 1 .1 1 2.9 1 1.4 1 1.2 1 2.3 1 1.6 1 1.4 1 2.8 1 2.6 1 2.9 1 .4 1 3.4 1 2.9 1 3.2 1-176.7 1 16.4 1-1.4 1 5.4 1 6.7 1 6.6 1 3.0 1 6.8 1 4.3 1 2.7 1 4.7 1 2.8 1 2.7 1 3.9 1 2.5 1 5.4 1 3.9 1 11.0 1 13.7 1 10.2 1 6.0 1 6.2 1 8.2 1 8.4 1 9.4 1 8.6 1-179.4 1 .7 1 .4 1 1.8 1 1.5 1 1.6 1 .8 1 1.5 1-.3 1 1.0 1 2.2 1 .9 1-.6 1 1.9 1 .2 1 1.6 1 1.2 1 .8 1 .6 1 1.4 1 .3 1 1.7 1-.6 1 2.2 1 2.1 1 1.7 1 2.3 1-.7 1 .9 1 0 1 1.0 1 1.5 1-1.3 1 1.9 1-.4 1 .6 1 .1 1 .8 1 .3 1 1.3 1 .8 1 0 1 3.7 1 2.5 1 3.5 1 2.9 1 3.2 1 1.6 1 .6 1-.1 1 1.1 1-.1 1 1.7 1-1.1 1 .8 1 .9 1 .5 1 .3 1 .1 1 .7 1 1.4 1 1.6 1 1.8 1 .3 1 1.9 1 .8 1 1.3 1 2.0 1 2.5 1 3.8 1 2.9 1 3.3 1 4.3 1 2.1 1 2.7 1 .9 1 1.6 1 1.3 1 .6 1 1.6 1 1.3 1 .8 1 1.5 1 2.6 1 1.2 1 2.1 1 2.4 1 2.5 1 1.6 1 3.1 1 4.0 1 2.6 1 2.3 1-.3 1 1.9 1 .4 1 .6 1 3.0 1 10.1 1 10.3 1 8.6 1 8.1 1 14.4 1 16.6 1 17.1 1 3.5 1-223.6 1 1.5 1 1.4 1 1.2 1 1.4 1-.8 1 1.8 1 0 1 .7 1-.6 1 1.1 1 .3 1 1.1 1-.7 1 1.5 1 .5 1 .8 1 0 1 2.9 1 .1 1 2.3 1 .9 1 1.6 1 1.9 1-2.0 1 1.5 1 .7 1 .9 1-.3 1 1.5 1 .6 1 .6 1 .5 1 .4 1 1.2 1 .5 1 .6 1 2.9 1 6.9 1 8.8 1 11.1 1 25.1 1 16.2 1 2.1 1 2.3 1 22.9 1 29.2 1 35.0" stroke="#ffe500" marker-start="url(#mmet)" marker-mid="url(#mmet)" marker-end="url(#mmet)"/>
<path d="M0 717.5l1 2.5 1-.7 1-4.2 1-2.8 1 10.3 1-6.6 1-1.3 1 2.9 1 6.1 1-3.4 1-.5 1 5.7 1-4.1 1-8.8 1 5.2 1 4.5 1 4.5 1-8.4 1-.1 1-2.8 1 8.2 1-3.4 1-2.6 1 4.9 1-2.1 1 6.6 1-5.0 1 2.7 1 3.5 1-5.4 1 9.0 1-6.7 1 .4 1 2.3 1-3.2 1 2.2 1 2.9 1-5.8 1 7.6 1-3.8 1 1.3 1-2.9 1 1.1 1 1.9 1-1.0 1-1.2 1-1.4 1 6.0 1-7.3 1 4.4 1-3.3 1 6.9 1 1.7 1-.6 1 .4 1-4.8 1 7.3 1-1.7 1-.1 1-3.8 1 1.6 1-4.9 1 5.1 1 3.6 1-3.6 1 .3 1 1.0 1 2.2 1-36.0 1-.7 1 1.8 1 .3 1-.8 1 4.0 1-5.5 1 4.2 1-2.4 1-2.2 1 1.6 1-1.3 1 2.4 1 .6 1 7.5 1-8.5 1-.6 1 5.1 1-3.4 1-1.3 1 1.3 1 5.2 1-.3 1-3.2 1-2.6 1 2.8 1-5.5 1 5.1 1-7.8 1 7.5 1-2.6 1-.9 1 2.6 1-.7 1 5.1 1-8.0 1 2.9 1-1.5 1-.2 1 6.6 1-3.7 1 3.2 1-6.5 1 2.7 1 1.1 1-3.8 1 7.7 1-.1 1-2.9 1-4.3 1 4.7 1 1.2 1-1.6 1 1.9 1-5.8 1 5.9 1 1.5 1-.5 1-2.6 1-.2 1-4.0 1 .1 1 3.1 1 1.7 1 1.7 1-1.7 1-6.3 1 3.3 1-1.1 1 2.9 1-.2 1 4.2 1-4.6 1 .1 1 3.7 1-1.6 1-3.6 1 3.9 1-.5 1 .4 1-3.7 1-2.3 1 2.5 1 6.7 1-5.0 1 .4 1-1.3 1-.3 1-.1 1 .6 1-1.2 1 4.8 1-7.0 1 2.5 1 0 1-7.2 1 7.7 1-1.7 1 .6 1 1.2 1 4.3 1-3.2 1 1.5 1-7.5 1 4.5 1 .8 1 1.5 1-3.2 1-.6 1 1.6 1 5.3 1-4.9 1-4.2 1 3.2 1 2.7 1-2.0 1 1.4 1-8.2 1 6.6 1 .2 1 1.7 1-1.2 1-7.9 1 9.8 1-2.2 1-2.0 1 1.6 1 3.7 1-.1 1-2.2 1 2.6 1 3.9 1-9.0 1 7.9 1-5.4 1 2.3 1-.4 1-5.8 1 3.5 1 7.8 1-3.2 1-4.8 1 1.1 1 1.1 1-1.5 1-7.2 1 8.4 1-1.5 1 4.2 1-8.5 1 6.9 1-2.0 1-.7 1 4.4 1-3.0 1-.2 1 1.9 1-3.1 1 8.5 1-7.0 1 2.4 1-6.9 1 4.3 1-3.4 1 .6 1 2.7 1-3.0 1 3.8 1 1.7 1-2.2 1-.2 1-2.5 1 2.4 1 3.3 1-5.3 1 4.0 1-1.4 1 2.7 1-5.2 1 2.1 1 3.5 1-4.6 1 3.7 1 3.6 1-5.7 1 1.7 1-2.1 1-7.3 1 9.0 1 .1 1-3.6 1-.6 1 3.3 1-.5 1-4.1 1 2.8 1 1.7 1-3.5 1 4.0 1-.7 1-.9 1 2.4 1 1.7 1-5.3 1 .6 1 1.2 1 6.2 1-5.4 1 1.0 1 4.9 1-9.9 1 2.9 1-2.7 1 6.1 1 1.3 1 2.0 1-4.8 1 2.5 1-4.7 1 0 1 .2 1-.3 1 3.0 1-.9 1 1.6 1-2.6 1 7.1 1 1.3 1-6.4 1 3.9 1-2.8 1-8.2 1 6.2 1 2.6 1-2.8 1 3.1 1-5.2 1 7.5 1-7.9 1 6.2 1-6.0 1 2.3 1 4.4 1-7.8 1 2.7 1 3.7 1 4.3 1-8.3 1 2.2 1 3.6 1-5.5 1 1.4 1-1.0 1-1.4 1 8.1 1-1.2 1 .1 1-6.7 1 6.0 1-.8 1 1.1 1-7.6 1 7.8 1 2.7 1-4.1 1-1.0 1-1.2 1 3.6 1 .8 1-.8 1-5.7 1 2.3 1 .8 1-2.5 1 3.3 1-6.2 1 6.6 1 1.8 1 2.7 1-3.8 1-.5 1 .7 1-1.3 1 5.3 1-6.1 1 1.6 1 0 1-.8 1 4.4 1-2.1 1-1.1 1-5.7 1 7.9 1-6.3 1 1.6 1 5.3 1-3.1 1-1.1 1 3.4 1-5.9 1-.4 1 10.0 1-1.7 1-8.0 1 2.8 1-2.6 1 5.0 1-7.2 1 5.4 1 2.4 1 1.9 1 2.3 1-7.7 1 7.8 1-2.6 1-2.9 1-.7 1 2.2 1-3.0 1 1.5 1 1.0 1-1.3 1-.4 1-.3 1 4.2 1-3.2 1-1.7 1 2.9 1-1.3 1-1.7 1 .9 1 .6 1 3.0 1 2.7 1 2.3 1-8.7 1 1.0 1 .8 1-3.9 1-.5 1 4.6 1 3.4 1-5.1 1-4.2 1 10.7 1-6.1 1 6.5 1-.8 1-4.7 1 4.3 1-4.6 1 1.4 1 1.0 1 2.3 1-.6 1-3.0 1 2.1 1-3.4 1 4.3 1-.7 1-3.3 1 5.0 1-43.7 1 11.0 1-1.2 1 2.4 1-2.8 1 8.0 1-2.3 1 4.1 1 .2 1-6.5 1 7.7 1-2.7 1-2.3 1 3.2 1-6.8 1 1.5 1 13.6 1-13.0 1 2.9 1-2.1 1 1.2 1 3.6 1-5.4 1-.7 1 6.9 1-4.8 1 1.7 1 3.8 1 .2 1-10.1 1 3.3 1-2.1 1 2.4 1-4.3 1 13.7 1-1.7 1-8.2 1 6.8 1-4.5 1-8.9 1 4.4 1 4.6 1-3.1 1 3.9 1 4.4 1-6.7 1-1.8 1-5.2 1 5.9 1-2.5 1 8.5 1-10.7 1 7.4 1-3.7 1-1.9 1-1.6 1 13.4 1-6.6 1 4.0 1-12.3 1 6.0 1 1.2 1 8.4 1-1.7 1-.2 1-12.0 1 8.0 1-5.2 1 7.3 1-8.8 1 1.8 1 .9 1 5.7 1 9.9 1-5.2 1-9.2 1-2.9 1 5.6 1 1.6 1 1.7 1-4.7 1-6.8 1 5.2 1 9.4 1-1.2 1-11.9 1 8.9 1-5.7 1 8.6 1-6.5 1 3.6 1 2.2 1-2.4 1-8.2 1 6.2 1 2.1 1-12.0 1 2.5 1 10.4 1 4.3 1-11.9 1 4.4 1-1.6 1 3.5 1-.5 1 1.9 1-1.1 1 0 1 6.3 1-11.2 1 8.2 1-2.0 1 6.9 1-12.7 1 .7 1-1.0 1 5.7 1-.3 1-6.5 1 13.8 1-4.9 1-12.1 1 11.8 1-6.8 1 12.2 1-8.3 1 8.3 1-14.9 1-1.2 1 5.5 1 8.1 1 5.6 1-13.0 1 2.0 1 14.8 1-9.3 1-3.2 1 6.2 1 3.7 1-10.7 1 7.3 1-6.0 1 1.2 1 4.7 1-2.0 1 10.4 1-8.9 1-3.6 1 7.2 1-.7 1-.6 1-6.6 1 5.3 1-.5 1 1.5 1-6.8 1 3.3 1 3.5 1 2.6 1 3.2 1-10.8 1-2.2 1 8.5 1-13.1 1 2.4 1 1.1 1 5.4 1 4.9 1-12.8 1 4.1 1-.6 1 4.0 1-10.6 1 12.2 1-4.5 1 .4 1-.3 1 7.2 1-4.0 1-2.8 1-.7 1 2.0 1 4.3 1-3.7 1 1.2 1-6.4 1 3.9 1 .3 1 4.8 1-4.1 1 5.3 1-.8 1-2.2 1 1.1 1 1.6 1-6.9 1 5.8 1 5.3 1-2.1 1 8.3 1-8.1 1 1.2 1-.7 1-2.2 1 9.9 1-1.5 1 6.9 1-10.0 1 0 1 4.2 1-2.0 1 2.4 1-7.0 1 6.1 1-1.5 1-2.3 1 3.7 1 4.4 1-3.0 1-3.0 1 6.2 1-6.1 1-.5 1-5.3 1 9.1 1-2.5 1 6.3 1-8.9 1 2.0 1 2.7 1 3.1 1-4.7 1 .7 1 1.7 1 6.7 1-4.7 1-3.8 1 1.2 1-3.1 1 2.7 1 .6 1-6.7 1 4.0 1 1.5 1-2.1 1 4.7 1-2.6 1 5.6 1 3.1 1-4.7 1-2.7 1-.4 1-.9 1-4.2 1 8.7 1-6.1 1 4.7 1-3.5 1 6.5 1-4.0 1 5.3 1-8.8 1-.9 1 11.7 1-6.7 1 2.5 1 6.9 1 1.5 1-8.7 1-2.2 1 6.6 1-.9 1-6.2 1 10.5 1-5.8 1-.3 1 5.2 1-2.9 1 1.4 1-1.4 1 5.4 1 3.1 1-6.2 1 8.6 1-.2 1-1.7 1-3.8 1 4.6 1 3.0 1-4.5 1 5.3 1-.5 1-35.9 1 3.3 1-1.4 1-.9 1-4.7 1-2.4 1 5.1 1 1.8 1-3.0 1 7.7 1-4.8 1 6.3 1-6.9 1 8.9 1-5.8 1 3.4 1 1.6 1 2.1 1-2.2 1 .9 1-4.8 1 1.6 1 16.0 1 2.6 1 6.3 1 12.0 1-43.5 1-2.7 1-7.0 1 11.4 1-3.6 1-3.7 1-2.5 1 7.0 1 .1 1 4.4 1-6.4 1 2.3 1-.7 1-1.3 1 5.2 1-5.6 1-1.7 1 5.4 1-4.6 1 5.6 1-3.4 1-5.9 1 5.8 1-1.9 1 2.7 1 2.1 1 4.1 1-9.7 1 .9 1 1.7 1-1.9 1 1.5 1 2.5 1 1.6 1-3.7 1 3.8 1-5.6 1 4.8 1-2.4 1 5.8 1-4.3 1-2.4 1 7.0 1-4.4 1 4.6 1 .9 1-4.7 1 9.1 1-4.8 1-3.6 1 1.6 1 .5 1 2.2 1-.3 1-.7 1-1.3 1-1.3 1 2.9 1 3.9 1-2.7 1 2.5 1-8.4 1 5.4 1 4.5 1 .7 1-1.6 1 .9 1-7.0 1 6.1 1 0 1-1.8 1 4.4 1 3.5 1-4.5 1 2.1 1-3.2 1 1.7 1 2.6 1 2.0 1 3.3 1-9.5 1 6.5 1-1.0 1-5.8 1 .4 1 5.0 1-1.6 1-.4 1-1.6 1 2.6 1 6.9 1-3.9 1 0 1 1.3 1 4.0 1-2.8 1 5.0 1-3.8 1 1.4 1 4.5 1-1.2 1 6.8 1 2.3 1-6.1 1 5.9 1-7.8 1-41.3 1 11.1 1-4.0 1 1.3 1 1.0 1 3.0 1-3.6 1-1.6 1 4.2 1-4.6 1 3.3 1 1.7 1-2.7 1 2.8 1 2.4 1-1.9 1-2.7 1-2.1 1 1.9 1-1.2 1 4.7 1-3.1 1-2.6 1-5.1 1 7.0 1 1.9 1-1.3 1 .3 1 2.7 1-2.0 1 1.5 1 1.8 1-4.6 1 3.8 1 1.5 1-1.5 1-1.6 1 4.2 1-7.1 1 1.4 1 3.0 1 .4 1 2.4 1-.3 1 4.4 1-2.2 1 3.5 1 21.6" stroke="#ee2a2f" marker-start="url(#minf)" marker-mid="url(#minf)" marker-end="url(#minf)"/>
<path d="M0 759.9l1 2.3 1 2.4 1-1.9 1-2.5 1 1.3 1 7.5 1-8.4 1 9.0 1-5.0 1 4.2 1-1.2 1-1.1 1-1.3 1 6.0 1-8.1 1-1.4 1 20.4 1-26.9 1 7.8 1-4.1 1 10.1 1 4.2 1-5.5 1-4.0 1-2.8 1 6.1 1-2.6 1 5.1 1 4.6 1-5.4 1 3.5 1-3.6 1 1.5 1 1.1 1-1.2 1-2.3 1-.8 1 5.3 1-.9 1-5.5 1-.9 1-3.5 1 6.9 1-.6 1 6.6 1-1.2 1-8.6 1 1.6 1 3.1 1-1.6 1 .8 1-2.6 1 9.7 1-3.7 1 6.3 1-3.1 1-8.0 1 2.8 1 6.6 1 1.3 1-9.8 1 6.9 1 .4 1-1.3 1-4.4 1-1.0 1 3.8 1 4.4 1-21.0 1-.9 1-1.8 1 0 1 2.0 1-2.4 1-2.2 1-.2 1 .8 1 3.5 1 2.7 1-5.8 1 3.6 1-1.8 1-1.4 1 1.2 1 2.6 1-.9 1 2.2 1-1.4 1-3.2 1-2.9 1 7.2 1-2.2 1-6.1 1 2.7 1 3.4 1-3.5 1 1.5 1-.1 1-5.7 1 9.4 1 2.8 1-3.0 1-5.4 1 5.7 1 2.5 1-.3 1-4.9 1-1.9 1 3.1 1 1.0 1-4.4 1 1.6 1 .4 1-.4 1 2.6 1 2.0 1 2.3 1-5.3 1-1.1 1 2.2 1 1.1 1-1.3 1 .1 1 4.1 1 .3 1-3.7 1-.3 1 3.6 1-7.3 1 3.7 1-3.9 1 5.2 1 6.2 1-.7 1-1.1 1-6.4 1 2.9 1-5.5 1 3.8 1 2.1 1 1.8 1-6.7 1 5.3 1 1.6 1-9.1 1 .8 1 6.2 1-5.0 1-.4 1 3.0 1 6.8 1-5.1 1-11.7 1 13.9 1-1.8 1 3.8 1-7.0 1-.3 1-6.6 1 12.1 1-3.4 1 5.7 1-4.1 1 2.7 1-6.2 1 1.3 1 2.8 1 4.4 1-10.5 1 2.2 1 4.6 1-6.9 1 7.3 1-7.8 1 2.9 1 1.1 1 .2 1 1.4 1-3.7 1 4.0 1-2.8 1-3.0 1 1.1 1-2.9 1 5.7 1 1.2 1-4.8 1-2.5 1 5.4 1 .7 1 3.3 1-2.8 1 1.0 1 6.1 1-10.8 1 2.7 1 .8 1 4.5 1-.5 1-2.6 1 4.4 1-2.4 1 .1 1-.2 1-8.6 1 6.7 1 12.4 1-8.0 1-5.2 1 1.1 1-1.1 1 .8 1 5.8 1-6.2 1 2.9 1-3.3 1 2.8 1-.8 1 2.3 1 2.9 1-8.3 1 .7 1 7.3 1-8.8 1 4.2 1-3.9 1 4.5 1-4.6 1 3.7 1-2.2 1 8.5 1-1.8 1-8.5 1 1.5 1 3.8 1-.9 1-2.9 1-4.1 1 0 1 8.7 1-1.3 1-3.4 1-2.1 1 1.6 1-2.4 1 4.4 1-3.5 1 6.5 1-4.7 1 5.1 1-2.8 1-2.6 1-.5 1 2.4 1 2.9 1 .4 1-5.9 1-.6 1 5.5 1 4.2 1-9.0 1 1.1 1-3.9 1 10.2 1-4.9 1 2.2 1 2.8 1-4.5 1 4.5 1-1.0 1-1.0 1-1.1 1-2.5 1-.1 1 .7 1 2.0 1-1.9 1 6.4 1-6.5 1-1.8 1 7.2 1-4.4 1-2.0 1 5.8 1-2.0 1 3.4 1 1.2 1-1.8 1-2.6 1-1.3 1-2.2 1 1.9 1-1.0 1 5.5 1-7.3 1 1.8 1-5.7 1 9.1 1 5.4 1-9.7 1 4.5 1 1.2 1 .8 1 2.4 1-4.3 1-4.1 1 7.0 1-7.3 1 4.8 1-2.0 1-1.7 1-.4 1 7.4 1-4.8 1 .7 1-3.3 1 1.9 1 1.9 1-2.7 1 3.6 1 .4 1-3.9 1-1.1 1 9.0 1-11.1 1 2.9 1 9.0 1-4.8 1 .6 1 .2 1-.9 1-1.9 1 1.7 1-5.5 1 7.2 1-4.8 1 6.8 1-.8 1-4.6 1 .8 1 .3 1 3.2 1-6.1 1-2.6 1 7.3 1-3.4 1 6.5 1-7.8 1 2.6 1-1.4 1 7.0 1-8.3 1 5.7 1-4.9 1 8.3 1-5.7 1 3.0 1-.8 1-5.6 1 3.1 1-8.0 1 6.6 1 1.8 1-2.3 1 2.1 1-1.1 1 10.4 1-5.7 1 0 1-6.0 1 3.2 1-1.4 1 5.5 1-4.6 1-10.1 1 5.5 1 2.7 1 4.3 1-1.0 1-5.8 1 7.1 1-5.5 1 3.1 1-5.4 1 11.4 1-8.2 1-1.9 1 7.7 1 .7 1-3.7 1-8.3 1 12.8 1-5.8 1-.7 1 10.1 1-11.7 1-.2 1 3.2 1 1.1 1 3.2 1-5.5 1 2.8 1-.8 1 5.6 1-2.1 1-4.1 1-.6 1 1.8 1-5.6 1 9.8 1-3.7 1 2.8 1-1.4 1 .3 1-3.4 1-1.8 1 8.0 1 1.0 1-2.7 1-5.9 1 7.0 1-4.3 1-3.0 1 8.0 1-2.9 1-.4 1-.7 1 2.5 1 2.4 1-13.7 1-31.8 1 2.2 1 6.1 1-40.5 1 37.2 1-1.5 1-33.3 1 32.6 1 2.8 1 .8 1-36.8 1 29.1 1-32.4 1 2.5 1 7.1 1 26.7 1 .6 1 3.6 1-1.5 1-4.9 1-27.1 1 32.8 1-33.5 1 29.2 1-33.9 1 39.6 1-33.8 1 33.4 1-37.5 1 1.7 1 35.5 1-4.4 1-28.1 1-5.7 1 27.5 1-26.8 1 4.7 1 .1 1-5.8 1 6.5 1 33.8 1-36.3 1 29.1 1-27.7 1-4.6 1 32.7 1 .8 1-31.1 1-.5 1 5.6 1 30.5 1-33.5 1-5.2 1 40.9 1-2.3 1-33.4 1 28.7 1 2.4 1-.8 1-33.2 1 35.2 1-35.5 1-2.9 1 5.8 1 27.6 1-30.5 1 34.3 1-31.6 1-2.8 1 37.4 1-5.5 1-28.0 1 31.4 1-2.4 1-34.6 1 6.8 1 29.9 1-35.3 1 36.4 1-39.3 1 6.3 1-.1 1 29.5 1 2.9 1-39.2 1 33.2 1 7.0 1-33.6 1 .9 1 33.1 1-38.8 1 .1 1 33.2 1-32.5 1 1.0 1 4.9 1-8.2 1 10.9 1-2.5 1-.1 1 1.4 1-1.5 1-3.1 1 3.7 1-1.8 1 1.3 1 2.3 1-3.6 1-2.9 1 8.0 1-2.6 1 1.3 1-1.7 1 .2 1-1.4 1 4.7 1-3.7 1 .4 1 25.9 1-1.5 1-22.2 1 17.5 1 12.1 1-27.8 1-3.9 1-2.2 1 28.3 1-27.3 1 .7 1 1.1 1 24.4 1-23.8 1-3.2 1 .6 1 30.7 1-.9 1-3.6 1 5.8 1-30.7 1 35.7 1-5.0 1 .9 1 1.1 1-1.1 1 4.4 1 4.3 1-9.6 1-.5 1-1.0 1 6.2 1 1.4 1-5.6 1-.7 1 1.5 1-3.1 1 6.0 1-1.8 1 1.5 1 1.7 1-.5 1-5.0 1 14.6 1-1.9 1-.7 1 .2 1 5.1 1-8.3 1 10.2 1 1.6 1 3.5 1-4.8 1 .7 1-.4 1-4.1 1 10.8 1-9.8 1 6.7 1-5.5 1 10.5 1-11.4 1 8.3 1-2.3 1-6.5 1 14.4 1-11.7 1 7.5 1 5.5 1-8.5 1-2.2 1-3.4 1 9.6 1 3.7 1-5.1 1-.4 1 1.5 1 4.7 1-1.4 1-2.8 1-2.1 1-.7 1 5.7 1 .8 1-3.9 1-.1 1 8.4 1-2.2 1 1.3 1-5.6 1-.8 1 6.6 1 1.0 1-.5 1-7.2 1 5.8 1-5.1 1-2.4 1 8.5 1-2.8 1 5.3 1-2.9 1-1.4 1 3.6 1 .5 1-2.1 1 0 1 4.2 1-4.3 1 1.0 1-5.2 1 6.5 1-3.1 1 8.2 1-2.2 1 .4 1 2.8 1-4.8 1 3.4 1-4.8 1-6.0 1 7.1 1 1.5 1-2.4 1 .5 1-1.3 1 0 1 2.4 1-2.7 1 2.1 1 .5 1 7.9 1-15.0 1 2.4 1 .1 1 5.8 1 6.4 1-3.5 1 7.5 1-13.4 1 3.0 1 2.3 1-5.5 1-1.6 1 4.8 1 1.5 1 1.5 1 3.0 1-5.2 1 7.3 1-10.1 1 12.8 1-7.5 1-1.7 1 5.5 1 6.0 1-7.9 1 6.0 1-9.1 1 12.8 1-6.8 1-.7 1 6.9 1-.4 1-2.9 1 1.0 1-6.6 1 1.1 1 5.8 1 1.2 1-1.0 1-4.1 1 2.1 1 12.5 1-89.8 1 .2 1-1.9 1 11.5 1-6.1 1 10.4 1 31.1 1-1.3 1-2.5 1 4.0 1-13.4 1 9.6 1 .9 1 .2 1 9.3 1-9.2 1 7.7 1-7.6 1 .6 1-6.1 1-1.5 1 6.4 1 11.1 1-2.0 1-3.3 1-4.6 1-.1 1-.7 1 2.6 1-2.9 1 .2 1 6.0 1-2.7 1 1.0 1-.9 1-3.1 1-1.7 1 4.7 1 1.6 1 1.6 1-7.9 1 4.8 1 1.1 1 3.3 1-.6 1-9.2 1 5.7 1-2.1 1 6.7 1-6.4 1 2.9 1-1.7 1-1.0 1-1.7 1 1.2 1 7.0 1-8.9 1 .8 1-2.6 1 3.3 1 14.7 1-11.8 1 2.2 1 3.3 1-2.2 1 1.6 1-.3 1-2.4 1-1.8 1 9.5 1-7.2 1 5.9 1-3.6 1 1.4 1-2.4 1 1.9 1 1.3 1 .1 1-1.7 1 9.7 1 6.8 1-9.2 1-6.5 1-1.3 1 3.3 1 2.1 1 3.0 1-7.0 1 4.6 1-1.9 1-3.0 1-1.7 1 8.0 1 1.1 1 2.9 1-8.8 1-.5 1-.3 1 5.4 1-1.5 1-5.6 1 8.7 1-10.1 1 6.7 1 4.2 1-1.5 1-.7 1-1.9 1-2.7 1 4.4 1 3.3 1-2.7 1 .9 1 4.0 1-10.8 1 1.0 1 2.5 1 1.6 1 1.9 1 3.7 1-4.8 1 .8 1-3.3 1 3.6 1 9.6 1-.5 1 2.3 1 0 1 5.2 1-10.5 1 10.8 1-8.1 1-46.6 1-1.3 1 2.8 1-.2 1-.7 1-2.3 1 4.0 1 .2 1-3.3 1-1.2 1 1.0 1-.3 1 2.2 1-.5 1 2.8 1-3.8 1 3.0 1-4.6 1 3.6 1-.7 1 1.0 1-1.1 1-.2 1 1.7 1-1.2 1-2.1 1-1.8 1 1.3 1 1.3 1-1.4 1 1.5 1 2.1 1 0 1-2.7 1 1.0 1 1.6 1 .5 1-1.3 1 1.6 1-1.5 1-1.5 1 1.3 1-.2 1 .5 1-1.5 1-2.2 1 6.2 1 22.6" stroke="#3dbb6e" marker-start="url(#mreg)" marker-mid="url(#mreg)" marker-end="url(#mreg)"/>
<path d="M0 748.6l1 6.1 1 2.3 1-1.4 1-10.2 1 7.4 1 3.0 1 .4 1 2.7 1 .2 1-11.7 1 9.6 1-8.7 1 10.7 1-1.6 1 1.5 1-2.5 1-1.6 1 3.1 1 .6 1 .7 1-7.7 1 8.1 1-4.0 1 9.4 1-6.8 1 5.3 1-4.9 1 7.0 1 .7 1-10.7 1 .5 1 5.4 1-1.1 1 4.4 1 4.2 1-12.9 1 5.5 1 1.0 1 2.2 1 .1 1-2.0 1-1.1 1 3.7 1-4.9 1 6.8 1-3.0 1 1.1 1-1.6 1 .3 1 4.2 1 .7 1 4.1 1-7.0 1 3.7 1-.7 1-8.7 1 4.3 1 1.7 1-7.2 1 8.2 1 3.4 1-7.9 1 5.4 1-.1 1-.2 1-3.4 1 2.7 1-5.1 1-35.3 1 15.7 1-10.4 1 1.0 1 3.9 1-5.0 1 2.7 1-1.5 1 4.0 1-11.7 1-.3 1 2.5 1 2.8 1-3.4 1 6.8 1 8.1 1-13.5 1-4.1 1 6.5 1 7.8 1-5.2 1 1.9 1-8.4 1 13.8 1-9.3 1 3.9 1-4.0 1 7.6 1-14.4 1 10.3 1-9.8 1 16.6 1-8.6 1 1.1 1 4.0 1-6.0 1-.8 1-.5 1 6.2 1-.2 1 7.1 1-15.0 1 2.0 1-2.0 1 .2 1 12.3 1-13.9 1 10.2 1-.1 1 5.1 1-6.2 1-11.4 1 8.1 1 4.3 1-19.0 1 13.6 1 7.6 1-5.1 1 .3 1-1.3 1 7.0 1 .5 1-11.0 1 1.4 1 14.1 1-22.2 1 15.3 1-14.1 1 17.5 1-1.4 1-5.6 1-3.4 1 .9 1 1.3 1 1.4 1-6.0 1 9.9 1-14.5 1 4.0 1 4.4 1 18.4 1-16.8 1 .7 1 9.2 1-5.8 1 1.4 1 1.6 1 4.2 1-12.6 1-3.1 1 10.3 1-10.2 1 10.2 1-3.7 1 6.1 1-1.5 1 5.2 1-7.0 1-5.2 1 .4 1 14.6 1-13.7 1 3.3 1 .6 1-9.5 1 7.9 1-.4 1 2.3 1-1.5 1-1.9 1 4.3 1-10.2 1 14.5 1-6.9 1 3.5 1-1.8 1-2.0 1 .8 1-5.3 1 5.3 1 7.8 1-8.7 1 3.6 1 4.5 1-.9 1-1.4 1-3.2 1-7.9 1 7.1 1-1.2 1 6.3 1-4.2 1 .5 1-1.4 1-1.8 1-1.2 1 5.7 1-2.7 1 .4 1-1.3 1-2.0 1 3.9 1 2.6 1-2.0 1-3.1 1 4.6 1-8.8 1-.5 1 10.3 1-9.9 1 2.7 1 3.7 1 0 1 .7 1-5.4 1 9.6 1-8.4 1 3.5 1 5.7 1-6.4 1 .9 1 10.0 1-4.1 1 .1 1-3.2 1-4.6 1 .1 1 6.0 1 2.6 1-3.3 1-2.5 1-4.8 1 11.1 1-6.8 1-9.2 1 11.5 1 3.5 1-3.5 1-1.7 1 5.2 1 1.9 1-.7 1-5.9 1 7.5 1 2.7 1-8.4 1-5.0 1 6.1 1 .5 1 2.7 1-7.8 1 3.9 1 2.1 1-3.8 1 6.7 1-6.6 1 14.9 1-14.5 1 1.5 1-5.0 1 .8 1 .5 1 2.6 1-.3 1-2.2 1 7.9 1 4.7 1-11.2 1-1.1 1 8.3 1-2.9 1 4.4 1 1.1 1-9.0 1 6.6 1-11.2 1 13.8 1-8.4 1 9.8 1-7.1 1 .6 1-6.1 1-3.3 1 .7 1 8.7 1-4.4 1 9.5 1-11.4 1 8.2 1-4.5 1 3.5 1-4.7 1 .6 1 2.4 1-7.5 1 5.5 1-4.0 1 8.3 1 1.1 1-10.0 1 5.5 1 4.9 1-5.6 1-.5 1-.8 1 4.9 1 3.7 1-13.2 1 9.3 1-4.3 1 5.0 1 7.6 1-6.2 1-5.3 1 4.8 1-2.4 1-3.8 1-1.7 1 5.2 1-5.5 1 11.4 1-15.8 1 15.7 1-9.2 1 5.7 1-7.7 1 7.7 1-.4 1 3.8 1-5.0 1 15.3 1-14.5 1 1.1 1-2.6 1-4.3 1 12.2 1-12.9 1 .6 1-3.7 1 6.4 1 5.2 1 2.8 1 4.3 1-2.6 1-5.9 1-3.5 1 .6 1 8.7 1-3.4 1-6.0 1 1.6 1-9.1 1 14.7 1-2.7 1-.6 1 2.8 1-3.0 1-3.8 1 6.3 1 1.1 1-4.4 1-.1 1 2.2 1 2.0 1-.5 1-8.0 1 7.5 1 .2 1-9.9 1 11.9 1-10.2 1 10.6 1-10.1 1 14.9 1-14.8 1 13.4 1-4.2 1 2.2 1-17.6 1 10.4 1 11.7 1-1.1 1-8.8 1 .8 1-9.6 1 16.8 1-11.9 1 1.9 1 9.6 1-7.2 1 6.9 1-4.0 1-2.2 1-6.2 1 8.4 1-4.6 1 9.5 1-10.7 1 14.3 1-12.4 1 5.4 1-3.4 1 1.1 1 5.1 1-7.4 1 .4 1 6.5 1 5.0 1-9.6 1 1.9 1-3.4 1-3.3 1 3.8 1-3.7 1 10.0 1-.5 1-1.0 1-5.8 1 9.3 1-9.8 1 2.9 1 4.1 1-44.0 1 1.4 1-1.5 1-27.5 1 28.2 1 6.6 1-28.5 1 27.6 1 3.7 1-9.2 1-22.8 1 23.8 1-20.2 1-2.0 1-4.1 1 27.3 1-2.5 1 .9 1 6.2 1-3.8 1-22.4 1 28.3 1-29.4 1 22.9 1-32.9 1 35.6 1-29.0 1 24.1 1-25.5 1 2.6 1 29.5 1-2.7 1-29.9 1 4.1 1 23.0 1-20.4 1-3.1 1 1.7 1-2.9 1-2.7 1 29.1 1-20.6 1 21.8 1-29.7 1 1.5 1 23.8 1 1.6 1-27.6 1 4.3 1 1.5 1 22.8 1-26.1 1-1.0 1 24.1 1 6.4 1-27.8 1 25.2 1 .1 1 4.4 1-24.5 1 20.1 1-31.3 1 5.5 1 2.5 1 26.6 1-32.7 1 27.6 1-19.7 1-6.0 1 29.9 1-1.2 1-26.7 1 25.6 1-4.1 1-20.6 1-6.1 1 28.3 1-22.9 1 21.5 1-18.6 1-5.4 1 1.6 1 28.3 1-1.5 1-26.5 1 23.9 1 2.5 1-25.0 1 2.6 1 17.9 1-21.3 1-2.3 1 27.5 1-15.4 1-15.5 1 13.9 1-3.8 1-.9 1-2.5 1 1.4 1 2.8 1-7.9 1-1.0 1 3.1 1-.6 1-2.1 1 5.8 1-5.9 1 5.4 1-1.2 1-1.8 1 2.0 1-4.1 1 .1 1 3.0 1 5.8 1 1.4 1-9.9 1 29.4 1-2.5 1-21.5 1 20.8 1-2.5 1-22.4 1-3.6 1-.3 1 27.2 1-18.2 1-3.0 1 2.1 1 22.3 1-24.8 1-1.2 1 6.1 1 17.7 1 1.9 1 9.8 1-5.9 1-27.5 1 27.1 1 2.1 1-1.6 1 2.0 1-4.1 1-1.1 1 1.9 1 .7 1 3.1 1 .3 1-7.2 1 7.8 1-.5 1-2.7 1-2.6 1 2.3 1 2.2 1-3.9 1 2.3 1-1.0 1 .7 1-1.4 1 9.9 1-1.9 1 4.3 1-1.7 1 4.7 1-4.9 1 7.7 1-3.9 1 5.0 1-5.2 1-2.0 1-1.2 1 2.5 1 1.4 1 1.5 1 6.3 1 .6 1-9.4 1 2.5 1 3.5 1-11.2 1 6.9 1 2.7 1-6.7 1 7.8 1-3.1 1 3.3 1-4.7 1 8.4 1 1.9 1-3.3 1-1.1 1-5.9 1 8.0 1-6.0 1 11.3 1-2.4 1 3.1 1-.5 1-1.5 1 6.5 1-13.8 1 3.7 1 1.0 1 1.9 1 .4 1 2.2 1-2.0 1 .7 1 5.5 1-7.6 1 4.9 1-2.7 1 8.0 1 .1 1-5.2 1 5.6 1-1.0 1-15.1 1 5.0 1 5.4 1 9.3 1-7.2 1 3.6 1-1.6 1 2.4 1-5.5 1 4.2 1-4.2 1 3.0 1 2.7 1-5.3 1 2.1 1 10.6 1-14.7 1 5.8 1 2.5 1-2.5 1-4.0 1 8.4 1-6.7 1-6.8 1 9.3 1-2.1 1-1.0 1 7.9 1-3.5 1-1.2 1-6.4 1 11.7 1 2.4 1-1.2 1 4.8 1-7.0 1-.9 1 .8 1 2.7 1 1.9 1 .8 1-8.7 1 4.6 1 .8 1 1.2 1 6.7 1 2.0 1-6.9 1-6.1 1 4.9 1 3.5 1-3.0 1 3.9 1-4.3 1 8.0 1-9.4 1 5.3 1 .4 1 3.3 1-2.5 1 7.1 1-1.6 1-4.3 1 4.6 1-3.7 1-1.6 1 10.9 1-1.7 1-1.7 1 .4 1-4.6 1 8.8 1-2.4 1-83.6 1 5.5 1-4.8 1 3.3 1-.5 1 18.9 1 .9 1 1.9 1-1.0 1 .2 1 5.7 1-4.0 1-7.2 1 10.7 1-6.3 1 3.4 1 7.2 1-.9 1 5.8 1 2.8 1 7.2 1 1.6 1-1.8 1 .4 1 7.6 1-2.0 1-19.6 1 .5 1-8.5 1 1.2 1 11.7 1-11.4 1 5.5 1-4.4 1 6.4 1-1.2 1-.3 1-2.7 1-.2 1-.5 1-.4 1 3.5 1 3.4 1-1.1 1-2.3 1 2.5 1 1.2 1 2.3 1-6.9 1 4.4 1 0 1 4.5 1-6.7 1 6.0 1-1.4 1-2.3 1-.3 1 1.0 1-1.7 1-.8 1 .3 1 2.8 1 1.0 1 .1 1 2.3 1 10.2 1-8.8 1-3.1 1-2.8 1 2.4 1 5.8 1-1.4 1-2.0 1-1.9 1 4.0 1-1.9 1 2.0 1 5.3 1-3.3 1 6.6 1-8.7 1 9.8 1-2.3 1-2.5 1 6.3 1 7.3 1-12.0 1 2.5 1-3.7 1 2.9 1-2.0 1 3.9 1-1.3 1-7.1 1 9.6 1-2.2 1-2.5 1 1.9 1 3.4 1-3.2 1 4.2 1 4.5 1-.3 1-16.7 1 20.3 1-12.7 1 8.9 1-3.2 1-5.5 1 8.1 1 4.4 1-7.2 1 2.9 1-3.0 1 6.0 1 1.9 1-4.0 1 5.2 1 0 1 2.7 1-1.5 1-1.1 1-1.2 1 5.1 1-.5 1 .6 1 6.4 1-3.1 1 5.3 1 2.9 1-.5 1-8.6 1-59.2 1 1.7 1-2.0 1 3.7 1-4.3 1 5.3 1-3.8 1 2.1 1-4.5 1 5.3 1 .9 1-3.1 1 3.2 1-4.3 1 3.0 1-2.7 1-1.9 1 4.8 1-2.0 1 .2 1-1.1 1 2.2 1 2.0 1-3.2 1-.1 1 3.3 1-2.4 1-2.4 1 1.8 1-2.2 1 3.4 1 .2 1 .6 1-.9 1-.4 1 1.7 1-.3 1-4.3 1 3.7 1 1.3 1 1.7 1-.2 1-.8 1-1.8 1 6.2 1-4.7 1 2.9 1 12.1" stroke="#4d4d4d" marker-start="url(#mint)" marker-mid="url(#mint)" marker-end="url(#mint)"/>
<path d="M0 776.1l1 1.9 1-2.2 1-1.1 1 6.1 1-5.1 1-.8 1 2.6 1-6.3 1 .6 1 8.5 1 4.7 1-7.3 1-1.2 1-2.0 1 3.7 1 3.9 1-2.6 1 2.3 1-3.1 1 0 1 .4 1 5.4 1-3.5 1 .2 1 1.2 1-1.3 1-5.2 1 8.1 1-5.9 1 1.0 1 3.5 1-3.4 1 3.3 1-1.1 1 3.3 1-5.4 1 6.9 1 3.0 1-7.7 1 .8 1 1.7 1 4.1 1-5.2 1-.2 1 2.0 1 .8 1 1.8 1-3.1 1 1.2 1 6.0 1-6.2 1 1.1 1-7.0 1 2.3 1 6.2 1-.2 1 2.0 1-4.0 1 0 1 2.8 1-1.9 1 2.5 1-6.6 1 4.3 1-.5 1 2.8 1-4.8 1-1.2 1-10.6 1-5.3 1 5.5 1 .6 1-2.6 1 3.4 1 .5 1-3.3 1 .2 1-2.8 1 1.9 1 1.1 1 2.1 1-9.3 1 7.2 1-.7 1 2.5 1-.1 1 2.9 1-7.8 1 8.1 1-2.1 1-1.3 1-3.8 1 5.9 1-4.3 1-.4 1-4.0 1 5.8 1-2.0 1 3.3 1 .3 1-3.9 1 .2 1 3.7 1-2.1 1-3.4 1 .7 1 3.0 1-1.2 1 1.6 1-.5 1-2.3 1 4.7 1-4.7 1 3.8 1-2.9 1 3.3 1 .2 1-.6 1 .4 1 .6 1-2.0 1-3.8 1 4.2 1 3.7 1-4.5 1 0 1-1.8 1-.2 1 .2 1 6.9 1-4.5 1 3.3 1-.9 1-.8 1-.7 1-4.7 1 .9 1 4.7 1-2.6 1-.3 1-.5 1 1.8 1 4.1 1-2.4 1 .4 1 2.2 1-.1 1 .6 1-.8 1-1.6 1 6.6 1-8.3 1-2.3 1 6.2 1-6.2 1 2.9 1 .7 1-1.9 1 2.9 1-2.6 1-3.6 1 4.7 1-2.8 1 3.1 1-3.2 1 4.3 1-1.2 1-3.0 1 2.6 1-.7 1 2.0 1-6.8 1 8.7 1-8.6 1 3.8 1 3.4 1-1.4 1 2.5 1-2.3 1-1.4 1-1.8 1 4.5 1-3.5 1 .4 1 1.1 1-2.8 1 4.6 1-3.0 1-.3 1 2.0 1-.2 1 1.4 1-1.7 1 3.1 1-4.8 1 .2 1 6.0 1-4.9 1 3.0 1-1.5 1 2.9 1-5.3 1 2.4 1-2.1 1 0 1 2.5 1-1.3 1-.7 1-1.3 1 3.2 1 1.5 1-1.7 1 1.7 1 .9 1-1.0 1-3.7 1 3.0 1-.4 1-.9 1 3.5 1-.3 1 1.3 1-3.1 1 5.3 1-2.8 1 1.5 1-.8 1-7.0 1 6.8 1-3.9 1-.1 1 5.0 1-1.6 1-.8 1-1.8 1 3.3 1-2.9 1 0 1-3.2 1 7.0 1-4.7 1-3.0 1 5.0 1 .8 1-2.6 1 6.1 1-6.3 1 4.5 1-.5 1-.1 1-2.0 1-1.9 1 .2 1 1.6 1-4.3 1 6.1 1 1.0 1-4.3 1 3.7 1 1.0 1-2.5 1 2.1 1-5.3 1 .6 1-3.7 1 5.0 1 3.5 1-2.9 1 .4 1 .8 1 2.4 1-.9 1-2.9 1 3.7 1-5.6 1 3.3 1-.8 1-1.7 1 1.5 1 1.9 1-2.3 1 1.7 1 .6 1-3.3 1 2.9 1 2.9 1-2.6 1-3.9 1-1.3 1 4.1 1-5.0 1 7.2 1-2.1 1 .3 1 1.0 1-.1 1 1.1 1-3.5 1 8.5 1-6.2 1-2.5 1 3.6 1-2.0 1-6.3 1 6.6 1-2.0 1 2.9 1 2.6 1-8.0 1 5.8 1-3.6 1 3.5 1-.6 1-.5 1 .3 1 1.6 1 2.2 1-6.9 1 2.4 1-.1 1 1.0 1-1.2 1-2.4 1 3.6 1 3.0 1-3.1 1 1.4 1-3.3 1-.2 1 .4 1 3.2 1 1.9 1 1.0 1-3.3 1-.5 1-1.5 1-2.1 1 3.9 1 6.6 1-2.6 1-3.3 1-3.8 1 3.3 1 .8 1-.1 1-4.5 1 3.9 1 4.4 1-5.5 1-1.5 1 1.8 1 7.0 1-6.8 1 8.0 1-8.2 1-.9 1 1.9 1-2.2 1-3.6 1 6.1 1 1.2 1-2.0 1-1.6 1 1.7 1 2.3 1-2.2 1-.3 1 .5 1-2.2 1 3.2 1-1.6 1 .2 1 3.7 1-2.6 1 1.6 1 .4 1-5.8 1 5.9 1-2.2 1 2.2 1-2.4 1 4.0 1-2.7 1-1.4 1 .3 1-1.5 1 1.4 1 .3 1-.1 1 1.4 1 3.7 1-9.9 1 6.5 1-2.0 1 2.3 1-2.5 1 3.4 1-.8 1-1.0 1 3.3 1-3.4 1-5.6 1 2.7 1 5.3 1-.9 1-2.0 1 5.0 1-4.9 1-1.4 1 6.0 1-3.1 1 2.0 1 2.9 1-5.7 1-.8 1 1.1 1 2.4 1-6.1 1 6.4 1-7.5 1 9.1 1 1.3 1-7.7 1 1.9 1-1.4 1 5.3 1 1.5 1-9.2 1 8.2 1-6.7 1-21.1 1-3.9 1-.6 1-18.9 1 18.8 1 1.3 1-24.8 1 26.0 1-1.7 1-5.5 1-17.1 1 25.7 1-24.0 1 1.2 1-6.7 1 26.2 1-.6 1 2.2 1 2.4 1-4.1 1-19.4 1 27.9 1-30.5 1 22.2 1-20.0 1 16.0 1-14.2 1 14.8 1-21.8 1 11.2 1 18.0 1-2.8 1-21.1 1 0 1 24.9 1-26.0 1-6.7 1 3.2 1 5.9 1-3.5 1 25.2 1-25.3 1 20.8 1-18.4 1-4.6 1 27.3 1-3.5 1-15.5 1-9.4 1 7.9 1 18.8 1-19.8 1 4.4 1 23.7 1-7.4 1-24.7 1 26.3 1-4.8 1 2.5 1-22.9 1 21.5 1-20.3 1 2.6 1-.3 1 22.9 1-18.9 1 8.1 1-13.2 1-.9 1 16.9 1 10.3 1-22.7 1 16.3 1 1.9 1-23.8 1-1.5 1 21.5 1-15.0 1 15.4 1-19.8 1 .4 1 2.8 1 23.4 1-1.4 1-25.3 1 19.1 1 6.2 1-22.9 1-2.3 1 23.9 1-23.4 1-3.3 1 26.5 1-24.7 1 1.1 1-2.3 1 4.5 1 13.3 1-5.3 1-1.2 1 2.8 1 3.8 1-4.0 1-4.4 1-.7 1 5.0 1 .7 1-2.1 1 7.7 1-7.6 1-2.9 1 1.5 1-2.1 1-1.5 1 5.0 1-3.1 1 1.9 1 .7 1 12.0 1-.1 1-7.1 1 10.0 1-1.1 1-15.3 1 4.4 1-4.1 1 20.7 1-17.9 1-.1 1-3.0 1 10.7 1-14.5 1 12.9 1-3.8 1 6.2 1 .6 1 4.7 1 4.9 1-21.9 1 10.7 1 1.1 1 7.1 1-2.9 1 4.3 1-4.2 1 3.3 1-5.0 1 6.3 1-2.8 1-4.2 1 5.0 1-3.2 1-.7 1 4.3 1-1.6 1 .5 1 4.4 1-8.8 1 3.6 1-.5 1 2.8 1 10.4 1-2.1 1 .8 1-3.8 1 6.6 1-.9 1 3.6 1-6.8 1 7.4 1-2.8 1-.7 1-.1 1 2.5 1-2.3 1-2.0 1-1.8 1 6.0 1-3.9 1 4.6 1-.9 1-2.3 1 3.0 1-4.7 1 7.3 1 2.6 1-9.6 1 8.9 1-9.3 1 5.5 1-1.1 1 4.0 1-1.4 1-.5 1-2.7 1 3.6 1-1.1 1 1.8 1-1.0 1 3.4 1-6.1 1-3.2 1 6.9 1-1.2 1-.6 1 4.1 1-3.9 1-1.2 1 .1 1-.4 1-.5 1 4.1 1 1.2 1-3.0 1 2.6 1-.8 1 3.6 1-1.9 1 1.6 1-4.6 1 1.0 1 3.2 1-2.0 1-.2 1 .8 1 .9 1 3.5 1-3.3 1-5.0 1 8.2 1 .1 1-5.5 1 2.8 1-6.8 1 6.3 1-.3 1 2.0 1-3.6 1 3.0 1-4.4 1-1.6 1 6.4 1-1.9 1 1.2 1-.8 1-1.6 1 3.0 1-1.1 1-2.1 1 3.6 1 1.7 1-2.2 1-3.8 1 2.8 1 .9 1-1.6 1 4.8 1-.5 1-1.6 1-2.5 1 3.1 1 1.8 1-2.6 1-.7 1 4.1 1-3.4 1-1.3 1-1.1 1 2.2 1 .9 1-4.6 1 2.0 1 1.1 1 5.8 1-.8 1-3.6 1-.8 1 7.4 1-5.4 1 3.3 1-2.4 1-.2 1-3.2 1 7.7 1-.7 1-3.6 1 4.9 1 .3 1-5.8 1 6.0 1-5.5 1 7.9 1-40.7 1 3.9 1-1.2 1 2.4 1-1.4 1 2.2 1-.5 1 2.1 1 2.1 1-4.2 1 1.0 1 1.7 1-1.0 1 2.2 1-1.5 1-5.8 1 14.0 1-5.3 1 2.9 1 .2 1-.2 1 3.0 1-.4 1-3.5 1 1.6 1 2.2 1-2.6 1 .2 1 5.5 1-6.2 1 1.7 1 1.1 1 .4 1 .2 1 .5 1-1.2 1-.3 1 2.8 1-.3 1-.9 1-1.6 1 5.0 1 .1 1-3.4 1 1.4 1-1.2 1-1.9 1 3.8 1-6.3 1 2.0 1 4.0 1-3.0 1 0 1 0 1-.9 1 4.4 1-2.7 1 1.6 1-.6 1 2.4 1-2.4 1 .6 1 2.8 1-1.7 1 2.9 1-3.8 1 2.4 1-2.2 1 1.0 1 0 1-1.4 1-4.9 1 12.4 1-3.8 1-1.3 1 4.0 1-.2 1 .1 1-4.1 1 1.3 1-.1 1-2.6 1 3.2 1 2.6 1 1.7 1-3.7 1-.1 1-.4 1 .3 1 .7 1 .7 1-3.4 1 3.0 1 1.5 1 .6 1-4.0 1 7.6 1-5.3 1 .2 1 1.4 1-2.4 1 .8 1 .1 1-1.0 1 0 1 3.2 1 1.6 1-1.2 1-1.1 1 .4 1-1.0 1 2.8 1 .6 1-.9 1 0 1-.2 1 1.1 1-1.7 1 2.3 1 1.3 1-3.1 1 2.2 1-1.4 1 2.9 1-4.0 1 4.2 1-.8 1-.8 1-4.8 1 3.1 1 .7 1 .9 1-25.0 1-2.4 1-.4 1-.7 1-.3 1 .3 1-.3 1 .8 1 .6 1 1.0 1-1.0 1 1.0 1-2.2 1 1.5 1-1.1 1-1.2 1 2.8 1-2.4 1 2.4 1-1.2 1 1.1 1-1.8 1 1.9 1 .9 1-3.7 1 2.9 1 0 1-.3 1 4.1 1-4.5 1 .4 1 0 1-.5 1 1.7 1 4.2 1-4.3 1 1.3 1-.2 1-1.4 1 2.5 1-1.9 1 3.1 1-2.4 1-.3 1 1.4 1-.9 1 .1 1 14.1" stroke="#f58a4e" marker-start="url(#mgen)" marker-mid="url(#mgen)" marker-end="url(#mgen)"/>
<path d="M0 773.0l1 -.1 1-.4 1 3.9 1-.8 1-3.2 1 1.7 1-4.1 1-.1 1 2.2 1-1.2 1 6.5 1-2.7 1 .6 1-9.0 1 10.4 1-2.4 1 2.0 1 .4 1-.3 1 2.6 1-1.0 1-.8 1-5.7 1-.3 1 2.9 1 2.5 1 2.5 1-2.2 1 0 1 2.3 1-3.9 1-2.9 1 .4 1 .8 1 6.6 1-3.7 1 1.1 1-4.2 1-1.3 1 3.1 1 5.2 1-1.4 1 2.3 1-3.2 1 1.9 1-5.5 1-1.6 1 7.1 1-1.6 1 .3 1 1.7 1-5.7 1 .2 1 5.6 1-7.4 1 7.1 1-2.8 1-3.1 1 6.7 1-.3 1-5.4 1 6.2 1-4.9 1 3.1 1-1.6 1 1.0 1 1.1 1 1.9 1-23.5 1 4.9 1-.1 1-.4 1-.3 1 .8 1 2.8 1-6.8 1 6.2 1-3.9 1 3.2 1-.2 1-2.5 1 3.3 1-.3 1-2.8 1 2.7 1 .6 1-4.2 1 5.1 1-2.6 1 .5 1-5.5 1 8.6 1-4.3 1 .8 1-1.9 1 5.9 1 3.2 1-8.9 1 1.8 1-1.1 1-12.2 1 10.7 1 .8 1-.1 1 .5 1 .4 1-1.2 1 5.3 1 2.1 1-7.4 1 3.4 1-4.3 1 6.7 1-2.5 1-1.0 1 2.7 1-2.9 1-4.6 1 3.9 1-1.7 1 2.5 1-1.3 1 3.8 1-3.2 1-1.7 1 .6 1-2.8 1 9.3 1-8.7 1 10.2 1-6.7 1 2.4 1-4.5 1-1.6 1 3.8 1 7.3 1-1.8 1-7.8 1 .2 1 5.1 1-1.6 1 1.2 1-5.3 1 4.4 1 1.1 1 5.3 1-12.7 1 4.6 1-4.1 1 10.5 1-5.8 1 6.8 1-10.7 1 2.9 1 2.6 1 1.3 1 2.1 1-1.9 1-.9 1-.3 1 1.9 1-2.2 1 1.3 1-.3 1-2.2 1 1.0 1 .4 1 4.3 1-2.6 1 1.7 1-2.4 1 .5 1-4.0 1-1.1 1 1.2 1 3.3 1-1.7 1-6.3 1 3.4 1 .8 1 1.1 1 3.7 1-4.6 1 5.4 1-2.4 1-.9 1 4.2 1-4.4 1 3.6 1 1.2 1-5.2 1 .9 1-2.2 1 1.8 1-.9 1 3.4 1-2.7 1-1.5 1-.3 1 2.7 1 1.4 1-1.1 1 3.6 1-3.8 1-6.3 1 7.0 1-3.1 1 8.7 1-10.7 1 6.4 1-.7 1-9.1 1 4.9 1 4.4 1-3.9 1 4.5 1 1.0 1-1.6 1 2.7 1-7.9 1 6.4 1 4.7 1-2.5 1-5.1 1 7.9 1-8.6 1-.8 1 6.9 1-1.7 1-3.2 1 1.9 1-.9 1-1.4 1-2.7 1 3.4 1-2.9 1 5.3 1-5.3 1 4.9 1-.6 1 .2 1 4.7 1-8.6 1 6.0 1 2.2 1-6.7 1 1.1 1 7.7 1-3.8 1-2.3 1 .8 1 3.3 1-5.5 1 1.5 1-6.0 1 7.6 1-2.6 1-2.4 1 3.1 1 1.1 1-2.1 1 3.1 1-4.3 1 3.6 1 1.8 1-5.7 1 .6 1 .9 1 .5 1 .3 1 1.4 1-1.5 1 1.9 1-4.7 1-3.2 1 4.6 1 .2 1 1.3 1-2.8 1 5.7 1 1.8 1-3.8 1-1.0 1-1.3 1 1.7 1 1.6 1-2.9 1 7.0 1 1.8 1-3.3 1-5.2 1 .6 1 4.1 1-5.5 1 6.4 1 1.1 1-7.6 1 1.7 1 3.8 1-2.1 1-3.5 1 3.2 1 4.4 1-4.8 1-.5 1 1.5 1 4.1 1-7.8 1 3.0 1-1.4 1-.1 1 8.7 1-7.7 1-1.5 1 7.3 1 2.0 1-4.8 1-1.8 1 2.6 1-2.4 1 2.3 1 1.6 1-5.3 1 7.5 1-6.1 1 1.8 1-1.0 1 2.8 1-1.5 1-7.0 1 10.9 1-2.1 1 1.4 1-7.7 1 2.9 1 1.3 1-7.6 1 11.3 1-3.1 1-4.9 1 6.8 1-3.9 1 6.6 1-5.2 1-3.0 1-.1 1 4.1 1 .7 1-.1 1-3.2 1 6.9 1-6.8 1 4.1 1-3.2 1-.8 1 3.8 1-4.6 1 .1 1 3.7 1-.6 1-2.9 1 .6 1 3.2 1 2.4 1-1.1 1-6.4 1 10.4 1-6.9 1 1.5 1 .9 1-.2 1 1.4 1-4.1 1 3.2 1-.9 1 2.9 1-3.7 1 5.1 1-10.4 1 7.6 1 1.2 1-.1 1-5.0 1-1.7 1 7.6 1-7.4 1 2.2 1 1.6 1 .2 1-2.9 1 2.1 1 1.7 1 2.8 1-3.7 1-2.3 1-.1 1-1.5 1 1.4 1 1.3 1 1.8 1-4.5 1 4.9 1-.7 1 1.3 1 .4 1-3.2 1 3.8 1 2.2 1-4.6 1-4.1 1 3.3 1 2.5 1-2.4 1 5.3 1-9.6 1-.4 1 9.0 1-2.7 1-1.0 1 3.3 1 1.4 1-5.9 1 2.0 1 2.5 1-3.3 1 2.2 1-1.4 1-3.2 1 1.6 1-2.0 1-16.4 1-2.1 1 3.1 1-4.7 1 4.5 1 3.8 1-14.0 1 11.1 1-.1 1-1.5 1-9.8 1 9.6 1-5.5 1-.6 1-3.1 1 9.7 1-1.8 1 5.2 1-4.3 1-2.2 1-3.4 1 7.2 1-5.5 1 5.4 1-10.1 1 12.2 1-8.3 1 9.8 1-12.6 1 1.6 1 13.0 1-12.9 1 1.5 1-.1 1 9.5 1-15.8 1 1.7 1 2.1 1 4.1 1-3.8 1 9.7 1-8.6 1 8.4 1-9.9 1 2.8 1 5.0 1-.1 1-7.9 1 .1 1-1.6 1 16.0 1-17.4 1 1.3 1 5.6 1 3.0 1-10.9 1 14.7 1-7.2 1 1.6 1-9.5 1 13.5 1-8.4 1-3.8 1-1.9 1 14.0 1-8.6 1 9.3 1-8.4 1 .3 1 3.9 1 6.3 1-7.1 1 6.0 1-5.4 1-2.6 1-2.2 1 7.5 1-6.5 1 5.9 1-7.4 1 3.3 1-1.8 1 5.6 1-2.0 1-4.1 1 4.6 1-2.8 1-9.0 1 4.1 1 15.4 1-12.6 1 1.4 1 4.3 1-10.2 1 5.6 1-3.3 1 3.9 1-.4 1-3.1 1 3.5 1 1.0 1-1.2 1 .6 1 3.5 1-6.5 1 3.5 1-2.9 1 10.3 1-2.9 1-6.5 1 1.6 1 .7 1-7.6 1 6.4 1-5.9 1 2.3 1 0 1 6.5 1 4.1 1-6.7 1 1.1 1 3.4 1-1.6 1-6.4 1 2.4 1 6.5 1 .4 1-2.8 1-3.4 1-3.8 1 12.0 1-2.5 1-6.8 1 2.5 1 6.3 1-6.3 1 5.2 1-4.1 1 .3 1 12.0 1-1.7 1 6.7 1-4.9 1 .4 1-1.7 1 2.8 1-4.5 1 3.6 1 2.3 1-5.5 1 2.6 1-.3 1-.5 1 2.1 1 .1 1-4.3 1 2.9 1-3.7 1-2.5 1 5.0 1-.5 1-.8 1 7.7 1-5.4 1-4.4 1 3.0 1 .7 1-1.2 1-3.6 1 3.9 1 .5 1 1.8 1-.5 1-5.4 1 8.9 1-3.6 1 0 1 2.1 1 2.4 1-.8 1-2.0 1 4.6 1 1.1 1-4.3 1 7.7 1-4.9 1-1.1 1-1.4 1 2.9 1 2.4 1-2.0 1 2.3 1-1.8 1 2.6 1-2.1 1-.3 1-.3 1 4.4 1-5.3 1 2.6 1-1.7 1 1.6 1 4.1 1-1.8 1-2.4 1 3.9 1-2.2 1-5.2 1 5.3 1-1.5 1 1.7 1 3.0 1-3.7 1-.2 1 3.4 1 2.1 1-6.7 1 11.5 1-7.1 1-.9 1-.3 1-1.7 1 2.1 1 1.6 1-3.2 1 5.6 1 .8 1 1.6 1-11.9 1 4.0 1-1.6 1 4.6 1 1.6 1-.1 1-1.5 1 1.9 1-1.0 1 5.1 1-.9 1 0 1-1.4 1 .6 1-1.3 1-6.9 1 4.5 1 .6 1 .9 1 3.6 1-9.4 1 9.9 1-4.6 1 4.5 1-1.0 1 3.1 1-5.9 1-.4 1 6.1 1-4.4 1 5.4 1-4.7 1 9.6 1 2.0 1-5.4 1-8.0 1 7.0 1-1.3 1 3.3 1-3.6 1-1.5 1 3.1 1-2.2 1 1.1 1-.5 1 2.2 1 2.3 1-4.6 1 1.3 1 3.1 1-3.1 1 1.3 1 5.5 1-5.3 1 .6 1 3.3 1-5.8 1 6.6 1-1.6 1 2.4 1-5.4 1 2.1 1 1.5 1-5.4 1-19.9 1-2.3 1 2.8 1-.2 1-1.7 1 .4 1 1.6 1 .1 1-1.7 1 .8 1 2.3 1-.1 1 .1 1-3.4 1 6.5 1-3.3 1-1.6 1-.1 1 4.4 1-4.3 1 2.5 1 .9 1 .6 1 1.0 1-1.7 1-2.8 1-11.0 1 5.9 1 .5 1-4.7 1-1.1 1 .9 1 9.6 1-7.2 1 .2 1 .3 1 2.0 1-4.1 1 4.9 1-2.2 1-5.1 1 7.3 1 .3 1 2.6 1-1.0 1-6.3 1 7.4 1-.1 1-13.0 1 5.0 1 8.0 1-8.8 1 10.5 1-5.4 1 5.4 1-6.0 1-3.1 1 8.2 1-3.4 1 1.5 1-1.7 1 3.8 1-2.2 1-3.7 1 3.0 1 1.3 1-.3 1-1.1 1-.6 1 7.9 1-4.1 1 .2 1-1.0 1 6.2 1-8.7 1 6.3 1 .5 1 .7 1-2.2 1-2.3 1 7.0 1-6.7 1 5.5 1-7.0 1 4.4 1 1.7 1-6.5 1-2.3 1 7.0 1-4.5 1 2.0 1 .1 1-.9 1 5.8 1 2.1 1-5.5 1 5.2 1-.5 1-2.0 1-.2 1 6.2 1-6.3 1-4.8 1 9.4 1 3.0 1-8.8 1 7.4 1-7.3 1 .6 1 6.5 1-6.7 1 4.7 1-.7 1 4.5 1-6.7 1 8.1 1-7.6 1 2.8 1-8.0 1 5.7 1 1.2 1 4.2 1-4.8 1-.9 1 7.2 1-2.8 1-4.6 1 5.0 1-6.2 1 8.2 1-4.1 1-.2 1-19.3 1-1.1 1 1.1 1-.4 1-.9 1-.1 1 1.6 1-.2 1-.1 1 .4 1-1.2 1 .5 1 0 1-1.0 1 1.0 1-.4 1 2.8 1-2.9 1 1.1 1 .5 1 0 1-1.7 1 .5 1 .1 1-.2 1 .6 1 1.6 1-3.3 1 4.2 1-1.8 1-1.5 1 0 1 .9 1-1.2 1 .1 1 2.7 1-3.2 1 1.4 1-.9 1 1.0 1-1.5 1 2.7 1-.3 1-1.5 1 .6 1-1.1 1 .3 1 2.9" stroke="#8a8a8a" marker-start="url(#moth)" marker-mid="url(#moth)" marker-end="url(#moth)"/>
<path d="M0 792.3l1 .4 1 2.0 1 .3 1 .3 1-.2 1 .3 1 .4 1-3.9 1 3.5 1 1.0 1-1.5 1 1.6 1-1.2 1 1.4 1-1.5 1 2.6 1-1.3 1 .7 1-.7 1-2.0 1 2.2 1-.6 1 .3 1 1.4 1-2.0 1 1.2 1 .4 1-.6 1 .2 1 .8 1 .5 1-1.6 1-.5 1 1.1 1-.4 1-.2 1-.3 1 .9 1 1.5 1-2.1 1 .5 1 .1 1 1.4 1-2.1 1 1.9 1-1.6 1 1.0 1 .1 1 .4 1 .9 1-1.3 1-.2 1 1.1 1-.7 1 .9 1 .7 1-.7 1-.3 1 .6 1-.6 1 .4 1 .4 1-.1 1-.8 1 .8 1-1.9 1 0 1 2.3 1-7.4 1 1.2 1-.6 1 .2 1 3.4 1-2.0 1-2.5 1 1.4 1 1.5 1-1.1 1-2.6 1 1.4 1 .9 1 .1 1-.7 1-.4 1 .8 1 .8 1-.5 1-3.4 1 6.0 1-1.4 1-1.6 1-.8 1 .8 1 1.8 1-2.8 1-.3 1 1.8 1-.6 1-.9 1 1.6 1-.7 1 .4 1-.1 1 .9 1-.8 1-.7 1-.9 1 5.1 1-3.1 1 .2 1 1.6 1-2.9 1 5.1 1-5.7 1-.1 1 .8 1 .9 1 .4 1-2.7 1 1.7 1 .7 1 .7 1 1.4 1-2.7 1-.8 1 3.3 1-3.5 1 .4 1 1.1 1-1.9 1 4.6 1-4.9 1 3.1 1-.4 1-1.2 1 3.0 1-.9 1-1.4 1 2.7 1-1.6 1-1.3 1-.4 1 .4 1-3.1 1 2.0 1 2.1 1-.7 1-.8 1 2.4 1-3.3 1 1.8 1 0 1-1.6 1 3.1 1-2.0 1-.8 1 3.4 1-.8 1 0 1-3.3 1 2.6 1-1.9 1 1.2 1 .8 1-.6 1 1.5 1 .3 1-1.5 1-1.2 1-.7 1 .7 1-.8 1 3.9 1-4.3 1 .1 1-1.0 1 1.3 1 1.8 1-2.2 1 2.1 1 .5 1-1.1 1 .9 1-1.3 1 1.9 1 .5 1-3.3 1 2.1 1 .2 1-.9 1 .9 1 .6 1-3.8 1 1.5 1 1.8 1-1.3 1-.2 1-.2 1 .5 1 .1 1 2.7 1-2.0 1 1.3 1-.6 1-.5 1 3.8 1-3.0 1-1.3 1-.7 1 0 1 2.0 1 0 1-.8 1 .8 1 .3 1-2.1 1 .5 1 .5 1-3.3 1 3.0 1 .2 1-2.3 1 1.5 1 1.9 1 .4 1-1.9 1 3.2 1-2.5 1 1.8 1-.3 1-3.0 1 2.9 1 1.9 1-3.4 1 1.5 1-2.9 1-2.4 1 3.9 1 2.2 1-.9 1-2.3 1-1.3 1 1.9 1-1.6 1 3.3 1 1.0 1-4.8 1 1.2 1-.4 1 5.7 1-3.7 1 3.5 1-5.3 1 2.3 1 3.1 1 1.5 1-6.2 1 .8 1-.4 1 3.6 1-2.4 1-1.1 1 2.1 1 .6 1-5.0 1 3.5 1 .8 1-2.7 1-.3 1 2.5 1 2.3 1-2.7 1 .4 1 0 1 1.0 1-.1 1-1.2 1-1.2 1 4.7 1-5.0 1-.5 1 .6 1 .3 1 1.3 1-.4 1-1.7 1 1.8 1-1.7 1 1.8 1-1.0 1-.4 1 .6 1 .7 1 .2 1 1.4 1-1.1 1-2.7 1 4.1 1-.9 1-.6 1 2.6 1-4.0 1 1.1 1 2.6 1-4.5 1 4.0 1-2.6 1 1.9 1-.4 1-3.6 1 4.3 1-2.9 1 2.9 1-.1 1-3.2 1 3.3 1-1.7 1 1.3 1-.3 1-2.1 1 1.9 1-.7 1-1.1 1 1.2 1-1.7 1 1.1 1 1.3 1-1.7 1-.5 1 4.5 1-5.9 1 2.1 1 1.6 1 1.2 1-1.8 1 2.4 1-1.7 1-.9 1 .6 1 2.6 1-2.1 1 1.1 1-1.4 1 1.4 1 .1 1-3.4 1 1.3 1-.4 1 2.7 1-3.1 1 1.3 1 .6 1 .4 1-.6 1-2.6 1 2.3 1 .8 1 3.5 1-4.7 1 3.2 1-4.1 1 1.5 1 1.0 1 1.8 1-3.3 1 2.8 1-1.4 1 .7 1-1.7 1-1.6 1 4.0 1-2.0 1-2.3 1 1.2 1 1.9 1 .5 1-1.7 1 1.2 1 2.4 1-2.9 1 .2 1 .5 1 1.2 1-2.5 1-1.2 1 2.2 1-1.1 1 .1 1-2.8 1 3.2 1 1.1 1-.9 1-1.1 1 2.6 1-4.1 1 2.4 1 2.9 1-3.3 1-1.2 1 .6 1 2.3 1-1.0 1-.3 1 1.6 1-1.7 1 .4 1-1.9 1-.5 1 2.6 1 1.9 1 .8 1-2.9 1-.3 1-.9 1-.7 1 2.8 1-3.2 1 2.2 1 .2 1 1.7 1-3.4 1-.3 1 3.0 1-3.1 1 0 1 3.1 1-3.3 1 1.9 1 .7 1 1.3 1-7.6 1 3.3 1-2.5 1-31.0 1 28.9 1 .4 1-27.0 1 26.7 1 5.1 1-5.9 1-27.4 1 31.0 1-26.7 1-.2 1 1.1 1 25.8 1-5.9 1 4.7 1-.1 1-1.8 1-27.0 1 30.5 1-28.8 1 30.9 1-32.1 1 26.5 1-25.8 1 26.8 1-25.8 1-1.2 1 30.0 1-.5 1-32.6 1 5.9 1 24.9 1-28.0 1 5.6 1-4.9 1 .7 1 0 1 22.9 1-20.7 1 28.3 1-28.8 1-1.6 1 27.3 1 1.1 1-27.8 1-.5 1-3.0 1 30.9 1-29.7 1 .3 1 27.2 1 1.1 1-26.5 1 27.3 1-6.2 1 6.2 1-30.5 1 31.7 1-29.4 1 .9 1-.4 1 27.5 1-27.1 1 23.7 1-27.3 1-.3 1 28.4 1 1.6 1-27.8 1 27.1 1 1.8 1-30.0 1 4.1 1 26.0 1-29.3 1 28.2 1-28.2 1 1.0 1 2.3 1 25.3 1-1.6 1-28.4 1 28.6 1 1.7 1-26.9 1 1.1 1 25.8 1-25.1 1-4.5 1 28.8 1-27.1 1-.5 1-.1 1 2.4 1 5.0 1-1.9 1 2.2 1-1.6 1-2.2 1 1.2 1 2.2 1-1.0 1-3.1 1 2.3 1 2.5 1-6.1 1 4.9 1-2.3 1-2.1 1 .3 1 .7 1 5.3 1-1.6 1-6.1 1 3.4 1 24.5 1-4.2 1-18.8 1 23.4 1-3.4 1-20.7 1 1.1 1-.2 1 21.1 1-21.8 1-2.7 1 3.0 1 21.8 1-23.0 1 2.6 1-.5 1 20.5 1 1.3 1 1.7 1-.9 1-24.7 1 21.5 1 1.8 1 4.1 1-3.7 1-1.4 1 2.4 1-.3 1-.6 1-.9 1 .6 1 1.6 1 .8 1-2.3 1 1.1 1 .1 1 3.7 1-4.7 1-.6 1 .2 1 3.9 1-2.3 1-4.3 1 6.6 1-.2 1 .4 1-.9 1 .8 1-.4 1 1.6 1-1.0 1 1.9 1-3.9 1 3.1 1-1.8 1-.9 1 1.0 1-1.4 1 3.3 1-2.1 1-2.5 1 3.7 1-1.2 1 .5 1-1.5 1 1.5 1 1.7 1-1.5 1-.8 1-.3 1 1.4 1-.5 1-1.2 1-.6 1 4.5 1-2.0 1-1.8 1 .6 1 2.0 1-.3 1 1.5 1-3.1 1 1.5 1 .3 1-1.3 1 .2 1 1.7 1-2.2 1 .6 1 .9 1-1.3 1 1.7 1-2.0 1 1.7 1-2.9 1 1.3 1 2.2 1-1.2 1 1.8 1 .1 1-1.8 1 .8 1-1.7 1-1.9 1 2.3 1 .2 1-.9 1 1.5 1-.7 1 2.5 1-1.6 1-1.9 1 1.7 1 .2 1 2.6 1-2.5 1-1.2 1 .7 1-.1 1 0 1 3.3 1-2.4 1-1.3 1-.3 1 1.2 1 1.5 1 .7 1-2.7 1 .5 1-1.6 1 1.1 1 .4 1 1.7 1-.9 1-2.8 1 1.3 1 .6 1 0 1-.9 1 3.6 1-3.3 1-.3 1 1.6 1 .5 1-.3 1-2.1 1 4.4 1-3.3 1-.5 1 2.2 1-2.1 1 .9 1 2.8 1 0 1-2.1 1 .1 1 .4 1-2.2 1 3.1 1-1.6 1 .5 1-.8 1 2.6 1-4.1 1 1.9 1-1.2 1 1.7 1-.2 1 .1 1-.7 1 1.8 1-2.4 1 .1 1-.5 1-2.8 1-1.3 1-2.7 1 2.8 1 1.6 1-23.5 1 22.5 1-.3 1-2.0 1 1.5 1 1.2 1 1.5 1-4.0 1 3.9 1-2.0 1-1.6 1-.1 1-19.6 1 19.9 1 3.1 1-3.8 1 2.8 1-.6 1-.4 1-.7 1-.6 1 6.4 1-4.7 1-.1 1 .2 1 .9 1 .9 1 .2 1 .7 1 2.6 1-1.4 1-1.9 1-.7 1-1.9 1 4.1 1 1.1 1-6.4 1 3.6 1 1.5 1-3.7 1 5.8 1-1.9 1-3.5 1-.4 1 1.8 1 .5 1 .3 1-.4 1 1.4 1 .5 1 1.3 1-3.3 1-.5 1-.6 1 2.7 1 .4 1-2.2 1 1.6 1-3.3 1 .7 1 .7 1 .8 1-.2 1 2.4 1 1.0 1-1.5 1-2.9 1 1.6 1 .3 1-.1 1 0 1 1.8 1-3.0 1 3.4 1-3.6 1 .6 1-1.5 1 3.5 1 1.2 1-1.4 1-1.7 1-2.5 1 2.7 1 .5 1-1.1 1 2.9 1-2.8 1-.6 1 1.1 1 2.3 1 2.9 1-4.3 1 .3 1-2.8 1 3.5 1-3.7 1 2.7 1 1.0 1-2.0 1 .1 1 2.9 1-5.0 1 1.7 1 .5 1 .5 1-2.0 1 2.0 1 2.2 1-.8 1-1.9 1 1.8 1-1.9 1 1.7 1-2.3 1 .8 1-.4 1 2.3 1-1.8 1 1.7 1-1.9 1-.2 1-1.3 1-.3 1 1.8 1-.3 1 2.0 1-.3 1-5.8 1 .5 1-.6 1-.7 1 .6 1 2.1 1-.7 1 .6 1-1.9 1 1.2 1-1.2 1-.5 1 2.4 1-1.1 1 1.8 1-2.6 1-1.7 1 1.9 1-.8 1 1.9 1-.4 1-.5 1 .4 1 .4 1-.6 1-1.5 1 2.4 1-1.4 1 1.3 1-1.6 1-1.7 1 1.3 1-.8 1 2.1 1-1.5 1 2.2 1-1.6 1-20.0 1 22.3 1-2.3 1 .1 1 2.0 1 0 1-.6 1-1.4 1 .6 1 1.0 1-1.6" stroke="#4f68c4" marker-start="url(#mext)" marker-mid="url(#mext)" marker-end="url(#mext)"/>
</g>
<g font-size="14.2">
<text x="145" y="835.4" textLength="51.8" lengthAdjust="spacingAndGlyphs">Archaea</text>
<text x="273.8" y="835.4" textLength="51.3" lengthAdjust="spacingAndGlyphs">Bacteria</text>
<text x="478.2" y="835.4" textLength="51.6" lengthAdjust="spacingAndGlyphs">Eukarya</text>
<text x="583.2" y="835.4" textLength="51.1" lengthAdjust="spacingAndGlyphs">Bacteria</text>
<text x="518.5" y="853.1" textLength="90.6" lengthAdjust="spacingAndGlyphs">Nanoarchaota</text>
<text x="636.9" y="853.1" textLength="50.5" lengthAdjust="spacingAndGlyphs">Eukarya</text>
<text x="686" y="835.4" textLength="51.6" lengthAdjust="spacingAndGlyphs">Bacteria</text>
<text x="740.9" y="835.4" textLength="50.4" lengthAdjust="spacingAndGlyphs">Eukarya</text>
</g>
<path stroke="#000" stroke-width="1" d="M564 822.5L562.5 838.7M666.6 822.5L665 838.7"/>

<!-- legend -->
<rect x="827.6" y="641" width="21.5" height="15" fill="#fff200"/>
<rect x="827.6" y="665.6" width="21.5" height="15" fill="#ed1c24"/>
<rect x="827.6" y="690" width="21.5" height="15.3" fill="#000"/>
<rect x="827.6" y="714" width="21.5" height="14.8" fill="#009444"/>
<rect x="827.6" y="738" width="21.5" height="15" fill="#58595b"/>
<rect x="827.6" y="762.1" width="21.5" height="15" fill="#f26522"/>
<rect x="827.6" y="785.8" width="21.5" height="15.8" fill="#21409a"/>
<g font-size="15">
<text x="859" y="655.7" textLength="79.8" lengthAdjust="spacingAndGlyphs">Metabolism</text>
<text x="859.2" y="680" textLength="80.2" lengthAdjust="spacingAndGlyphs">Information</text>
<text x="858" y="704" textLength="149.5" lengthAdjust="spacingAndGlyphs">Intracellular processes</text>
<text x="859.6" y="727.7" textLength="73" lengthAdjust="spacingAndGlyphs">Regulation</text>
<text x="859.2" y="752.3" textLength="39.4" lengthAdjust="spacingAndGlyphs">Other</text>
<text x="860.1" y="776.4" textLength="52.8" lengthAdjust="spacingAndGlyphs">General</text>
<text x="859.2" y="800.5" textLength="152.5" lengthAdjust="spacingAndGlyphs">Extracellular processes</text>
</g>
</svg>
</body></html>
